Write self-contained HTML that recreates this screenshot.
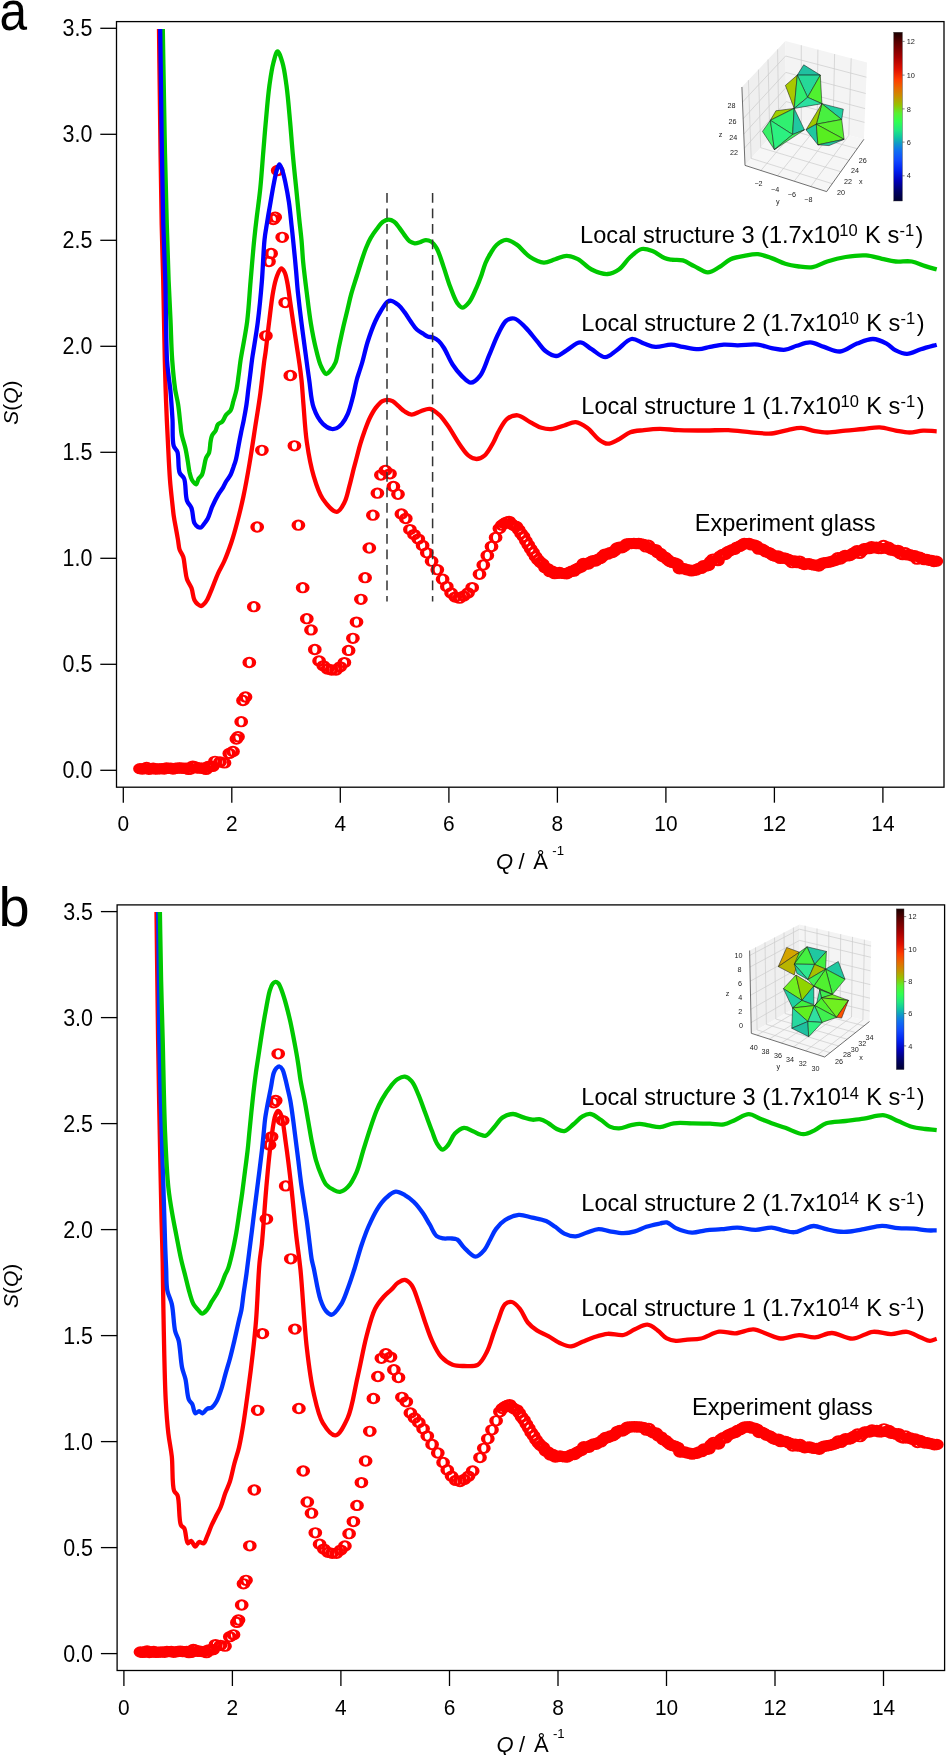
<!DOCTYPE html><html><head><meta charset="utf-8"><style>html,body{margin:0;padding:0;background:#fff;overflow:hidden}svg{display:block;will-change:transform}</style></head><body><svg width="947" height="1755" viewBox="0 0 947 1755">
<style>.t{font-family:"Liberation Sans",sans-serif;font-size:22px;fill:#000}.leg{font-family:"Liberation Sans",sans-serif;font-size:23.6px;fill:#000}.lsup{font-family:"Liberation Sans",sans-serif;font-size:16.5px;fill:#000}.sup{font-family:"Liberation Sans",sans-serif;font-size:14px;fill:#000}.big{font-family:"Liberation Sans",sans-serif;font-size:56px;fill:#000}</style>
<defs><path id="m" d="M-6.9,0A6.9,5.65 0 1 0 6.9,0A6.9,5.65 0 1 0 -6.9,0ZM-2.6,0A2.6,3.7 0 1 0 2.6,0A2.6,3.7 0 1 0 -2.6,0Z"/></defs>
<rect width="947" height="1755" fill="#fff"/>
<rect x="116.5" y="21.6" width="827.5" height="765.6" fill="none" stroke="#000" stroke-width="1.3"/>
<line x1="100.3" y1="770.3" x2="116.5" y2="770.3" stroke="#000" stroke-width="1.3"/>
<text transform="translate(92.4,778.2) scale(0.975,1.065)" text-anchor="end" class="t">0.0</text>
<line x1="100.3" y1="664.3" x2="116.5" y2="664.3" stroke="#000" stroke-width="1.3"/>
<text transform="translate(92.4,672.2) scale(0.975,1.065)" text-anchor="end" class="t">0.5</text>
<line x1="100.3" y1="558.3" x2="116.5" y2="558.3" stroke="#000" stroke-width="1.3"/>
<text transform="translate(92.4,566.2) scale(0.975,1.065)" text-anchor="end" class="t">1.0</text>
<line x1="100.3" y1="452.3" x2="116.5" y2="452.3" stroke="#000" stroke-width="1.3"/>
<text transform="translate(92.4,460.2) scale(0.975,1.065)" text-anchor="end" class="t">1.5</text>
<line x1="100.3" y1="346.3" x2="116.5" y2="346.3" stroke="#000" stroke-width="1.3"/>
<text transform="translate(92.4,354.2) scale(0.975,1.065)" text-anchor="end" class="t">2.0</text>
<line x1="100.3" y1="240.3" x2="116.5" y2="240.3" stroke="#000" stroke-width="1.3"/>
<text transform="translate(92.4,248.2) scale(0.975,1.065)" text-anchor="end" class="t">2.5</text>
<line x1="100.3" y1="134.3" x2="116.5" y2="134.3" stroke="#000" stroke-width="1.3"/>
<text transform="translate(92.4,142.2) scale(0.975,1.065)" text-anchor="end" class="t">3.0</text>
<line x1="100.3" y1="28.3" x2="116.5" y2="28.3" stroke="#000" stroke-width="1.3"/>
<text transform="translate(92.4,36.2) scale(0.975,1.065)" text-anchor="end" class="t">3.5</text>
<line x1="123.3" y1="787.2" x2="123.3" y2="802.7" stroke="#000" stroke-width="1.3"/>
<text transform="translate(123.3,831.3) scale(0.95,1.0)" text-anchor="middle" class="t">0</text>
<line x1="231.8" y1="787.2" x2="231.8" y2="802.7" stroke="#000" stroke-width="1.3"/>
<text transform="translate(231.8,831.3) scale(0.95,1.0)" text-anchor="middle" class="t">2</text>
<line x1="340.3" y1="787.2" x2="340.3" y2="802.7" stroke="#000" stroke-width="1.3"/>
<text transform="translate(340.3,831.3) scale(0.95,1.0)" text-anchor="middle" class="t">4</text>
<line x1="448.9" y1="787.2" x2="448.9" y2="802.7" stroke="#000" stroke-width="1.3"/>
<text transform="translate(448.9,831.3) scale(0.95,1.0)" text-anchor="middle" class="t">6</text>
<line x1="557.4" y1="787.2" x2="557.4" y2="802.7" stroke="#000" stroke-width="1.3"/>
<text transform="translate(557.4,831.3) scale(0.95,1.0)" text-anchor="middle" class="t">8</text>
<line x1="665.9" y1="787.2" x2="665.9" y2="802.7" stroke="#000" stroke-width="1.3"/>
<text transform="translate(665.9,831.3) scale(0.95,1.0)" text-anchor="middle" class="t">10</text>
<line x1="774.4" y1="787.2" x2="774.4" y2="802.7" stroke="#000" stroke-width="1.3"/>
<text transform="translate(774.4,831.3) scale(0.95,1.0)" text-anchor="middle" class="t">12</text>
<line x1="882.9" y1="787.2" x2="882.9" y2="802.7" stroke="#000" stroke-width="1.3"/>
<text transform="translate(882.9,831.3) scale(0.95,1.0)" text-anchor="middle" class="t">14</text>
<text x="0" y="0" class="t" style="font-size:21px" transform="translate(17.5,424.8) rotate(-90)"><tspan font-style="italic">S</tspan>(<tspan font-style="italic">Q</tspan>)</text>
<text x="496" y="868.8" class="t" font-style="italic">Q</text>
<text x="518.5" y="868.8" class="t">/</text>
<text x="533.3" y="868.8" class="t">Å</text>
<text x="552.3" y="855" class="sup" style="font-size:13.2px">-1</text>
<text transform="translate(-0.6,30.4) scale(0.885,1)" class="big">a</text>
<rect x="117.1" y="904.9" width="827.5" height="765.6" fill="none" stroke="#000" stroke-width="1.3"/>
<line x1="100.89999999999999" y1="1653.6" x2="117.1" y2="1653.6" stroke="#000" stroke-width="1.3"/>
<text transform="translate(93.0,1661.5) scale(0.975,1.065)" text-anchor="end" class="t">0.0</text>
<line x1="100.89999999999999" y1="1547.6" x2="117.1" y2="1547.6" stroke="#000" stroke-width="1.3"/>
<text transform="translate(93.0,1555.5) scale(0.975,1.065)" text-anchor="end" class="t">0.5</text>
<line x1="100.89999999999999" y1="1441.6" x2="117.1" y2="1441.6" stroke="#000" stroke-width="1.3"/>
<text transform="translate(93.0,1449.5) scale(0.975,1.065)" text-anchor="end" class="t">1.0</text>
<line x1="100.89999999999999" y1="1335.6" x2="117.1" y2="1335.6" stroke="#000" stroke-width="1.3"/>
<text transform="translate(93.0,1343.5) scale(0.975,1.065)" text-anchor="end" class="t">1.5</text>
<line x1="100.89999999999999" y1="1229.6" x2="117.1" y2="1229.6" stroke="#000" stroke-width="1.3"/>
<text transform="translate(93.0,1237.5) scale(0.975,1.065)" text-anchor="end" class="t">2.0</text>
<line x1="100.89999999999999" y1="1123.6" x2="117.1" y2="1123.6" stroke="#000" stroke-width="1.3"/>
<text transform="translate(93.0,1131.5) scale(0.975,1.065)" text-anchor="end" class="t">2.5</text>
<line x1="100.89999999999999" y1="1017.6" x2="117.1" y2="1017.6" stroke="#000" stroke-width="1.3"/>
<text transform="translate(93.0,1025.5) scale(0.975,1.065)" text-anchor="end" class="t">3.0</text>
<line x1="100.89999999999999" y1="911.6" x2="117.1" y2="911.6" stroke="#000" stroke-width="1.3"/>
<text transform="translate(93.0,919.5) scale(0.975,1.065)" text-anchor="end" class="t">3.5</text>
<line x1="123.9" y1="1670.5" x2="123.9" y2="1686.0" stroke="#000" stroke-width="1.3"/>
<text transform="translate(123.9,1714.6) scale(0.95,1.0)" text-anchor="middle" class="t">0</text>
<line x1="232.4" y1="1670.5" x2="232.4" y2="1686.0" stroke="#000" stroke-width="1.3"/>
<text transform="translate(232.4,1714.6) scale(0.95,1.0)" text-anchor="middle" class="t">2</text>
<line x1="340.9" y1="1670.5" x2="340.9" y2="1686.0" stroke="#000" stroke-width="1.3"/>
<text transform="translate(340.9,1714.6) scale(0.95,1.0)" text-anchor="middle" class="t">4</text>
<line x1="449.5" y1="1670.5" x2="449.5" y2="1686.0" stroke="#000" stroke-width="1.3"/>
<text transform="translate(449.5,1714.6) scale(0.95,1.0)" text-anchor="middle" class="t">6</text>
<line x1="558.0" y1="1670.5" x2="558.0" y2="1686.0" stroke="#000" stroke-width="1.3"/>
<text transform="translate(558.0,1714.6) scale(0.95,1.0)" text-anchor="middle" class="t">8</text>
<line x1="666.5" y1="1670.5" x2="666.5" y2="1686.0" stroke="#000" stroke-width="1.3"/>
<text transform="translate(666.5,1714.6) scale(0.95,1.0)" text-anchor="middle" class="t">10</text>
<line x1="775.0" y1="1670.5" x2="775.0" y2="1686.0" stroke="#000" stroke-width="1.3"/>
<text transform="translate(775.0,1714.6) scale(0.95,1.0)" text-anchor="middle" class="t">12</text>
<line x1="883.5" y1="1670.5" x2="883.5" y2="1686.0" stroke="#000" stroke-width="1.3"/>
<text transform="translate(883.5,1714.6) scale(0.95,1.0)" text-anchor="middle" class="t">14</text>
<text x="0" y="0" class="t" style="font-size:21px" transform="translate(18.1,1308.1) rotate(-90)"><tspan font-style="italic">S</tspan>(<tspan font-style="italic">Q</tspan>)</text>
<text x="496.6" y="1752.1" class="t" font-style="italic">Q</text>
<text x="519.1" y="1752.1" class="t">/</text>
<text x="533.9" y="1752.1" class="t">Å</text>
<text x="552.9" y="1738.3" class="sup" style="font-size:13.2px">-1</text>
<text transform="translate(-1.5,925.7) scale(1.0,1)" class="big">b</text>
<polygon points="741.9,87.0 785.4,41.1 786.2,118.7 745.0,165.4" fill="#efefef"/>
<polygon points="785.4,41.1 867.0,62.5 863.9,139.3 786.2,118.7" fill="#f4f4f4"/>
<polygon points="745.0,165.4 786.2,118.7 863.9,139.3 826.6,191.6" fill="#f6f6f6"/>
<line x1="748.4" y1="80.1" x2="751.2" y2="158.4" stroke="#cccccc" stroke-width="0.7"/>
<line x1="758.4" y1="69.6" x2="760.7" y2="147.7" stroke="#cccccc" stroke-width="0.7"/>
<line x1="768.0" y1="59.5" x2="769.8" y2="137.4" stroke="#cccccc" stroke-width="0.7"/>
<line x1="777.6" y1="49.4" x2="778.8" y2="127.1" stroke="#cccccc" stroke-width="0.7"/>
<line x1="742.5" y1="102.1" x2="785.6" y2="56.0" stroke="#cccccc" stroke-width="0.7"/>
<line x1="743.2" y1="118.7" x2="785.8" y2="72.4" stroke="#cccccc" stroke-width="0.7"/>
<line x1="743.8" y1="134.1" x2="785.9" y2="87.7" stroke="#cccccc" stroke-width="0.7"/>
<line x1="744.4" y1="148.2" x2="786.1" y2="101.6" stroke="#cccccc" stroke-width="0.7"/>
<line x1="801.3" y1="45.2" x2="801.3" y2="122.7" stroke="#cccccc" stroke-width="0.7"/>
<line x1="817.9" y1="49.6" x2="817.1" y2="126.9" stroke="#cccccc" stroke-width="0.7"/>
<line x1="834.6" y1="54.0" x2="833.0" y2="131.1" stroke="#cccccc" stroke-width="0.7"/>
<line x1="851.2" y1="58.3" x2="848.8" y2="135.3" stroke="#cccccc" stroke-width="0.7"/>
<line x1="785.6" y1="56.0" x2="866.4" y2="77.2" stroke="#cccccc" stroke-width="0.7"/>
<line x1="785.8" y1="72.4" x2="865.7" y2="93.5" stroke="#cccccc" stroke-width="0.7"/>
<line x1="785.9" y1="87.7" x2="865.1" y2="108.6" stroke="#cccccc" stroke-width="0.7"/>
<line x1="786.1" y1="101.6" x2="864.5" y2="122.4" stroke="#cccccc" stroke-width="0.7"/>
<line x1="760.9" y1="170.5" x2="801.3" y2="122.7" stroke="#cccccc" stroke-width="0.7"/>
<line x1="777.5" y1="175.8" x2="817.1" y2="126.9" stroke="#cccccc" stroke-width="0.7"/>
<line x1="794.2" y1="181.2" x2="833.0" y2="131.1" stroke="#cccccc" stroke-width="0.7"/>
<line x1="810.8" y1="186.5" x2="848.8" y2="135.3" stroke="#cccccc" stroke-width="0.7"/>
<line x1="751.2" y1="158.4" x2="832.2" y2="183.7" stroke="#cccccc" stroke-width="0.7"/>
<line x1="760.7" y1="147.7" x2="840.8" y2="171.7" stroke="#cccccc" stroke-width="0.7"/>
<line x1="769.8" y1="137.4" x2="849.0" y2="160.2" stroke="#cccccc" stroke-width="0.7"/>
<line x1="778.8" y1="127.1" x2="857.2" y2="148.7" stroke="#cccccc" stroke-width="0.7"/>
<line x1="741.9" y1="87.0" x2="745.0" y2="165.4" stroke="#333" stroke-width="0.7"/>
<line x1="745.0" y1="165.4" x2="826.6" y2="191.6" stroke="#333" stroke-width="0.7"/>
<line x1="826.6" y1="191.6" x2="863.9" y2="139.3" stroke="#333" stroke-width="0.7"/>
<text x="734.0" y="155.1" font-family="Liberation Sans,sans-serif" font-size="7.2" fill="#222" text-anchor="middle">22</text>
<text x="733.2" y="140.1" font-family="Liberation Sans,sans-serif" font-size="7.2" fill="#222" text-anchor="middle">24</text>
<text x="732.4" y="124.2" font-family="Liberation Sans,sans-serif" font-size="7.2" fill="#222" text-anchor="middle">26</text>
<text x="731.6" y="108.4" font-family="Liberation Sans,sans-serif" font-size="7.2" fill="#222" text-anchor="middle">28</text>
<text x="758.5" y="186.0" font-family="Liberation Sans,sans-serif" font-size="7.2" fill="#222" text-anchor="middle">−2</text>
<text x="775.1" y="191.6" font-family="Liberation Sans,sans-serif" font-size="7.2" fill="#222" text-anchor="middle">−4</text>
<text x="791.8" y="197.1" font-family="Liberation Sans,sans-serif" font-size="7.2" fill="#222" text-anchor="middle">−6</text>
<text x="808.4" y="201.9" font-family="Liberation Sans,sans-serif" font-size="7.2" fill="#222" text-anchor="middle">−8</text>
<text x="840.9" y="194.7" font-family="Liberation Sans,sans-serif" font-size="7.2" fill="#222" text-anchor="middle">20</text>
<text x="848.0" y="183.7" font-family="Liberation Sans,sans-serif" font-size="7.2" fill="#222" text-anchor="middle">22</text>
<text x="855.1" y="173.4" font-family="Liberation Sans,sans-serif" font-size="7.2" fill="#222" text-anchor="middle">24</text>
<text x="862.7" y="162.7" font-family="Liberation Sans,sans-serif" font-size="7.2" fill="#222" text-anchor="middle">26</text>
<text x="860.7" y="184.4" font-family="Liberation Sans,sans-serif" font-size="7.2" fill="#222" text-anchor="middle">x</text>
<text x="777.8" y="203.5" font-family="Liberation Sans,sans-serif" font-size="7.2" fill="#222" text-anchor="middle">y</text>
<text x="720.5" y="136.5" font-family="Liberation Sans,sans-serif" font-size="7.2" fill="#222" text-anchor="middle">z</text>
<polygon points="803.7,64.8 797.3,75.1 820.3,75.1" fill="#20c0a0" stroke="#1a1a1a" stroke-width="0.55" stroke-linejoin="round"/>
<polygon points="797.3,75.1 820.3,75.1 807.6,97.3" fill="#26d898" stroke="#1a1a1a" stroke-width="0.55" stroke-linejoin="round"/>
<polygon points="797.3,75.1 785.4,85.4 794.2,108.4" fill="#a8c800" stroke="#1a1a1a" stroke-width="0.55" stroke-linejoin="round"/>
<polygon points="797.3,75.1 807.6,97.3 794.2,108.4" fill="#30ee70" stroke="#1a1a1a" stroke-width="0.55" stroke-linejoin="round"/>
<polygon points="820.3,75.1 821.9,103.7 807.6,97.3" fill="#50f030" stroke="#1a1a1a" stroke-width="0.55" stroke-linejoin="round"/>
<polygon points="807.6,97.3 821.9,103.7 794.2,108.4" fill="#2ce0a0" stroke="#1a1a1a" stroke-width="0.55" stroke-linejoin="round"/>
<polygon points="794.2,108.4 775.9,110.8 770.4,120.3" fill="#a0d000" stroke="#1a1a1a" stroke-width="0.55" stroke-linejoin="round"/>
<polygon points="794.2,108.4 770.4,120.3 792.6,134.5" fill="#30f070" stroke="#1a1a1a" stroke-width="0.55" stroke-linejoin="round"/>
<polygon points="770.4,120.3 762.5,131.4 774.4,149.6" fill="#38f068" stroke="#1a1a1a" stroke-width="0.55" stroke-linejoin="round"/>
<polygon points="770.4,120.3 774.4,149.6 792.6,134.5" fill="#2cf080" stroke="#1a1a1a" stroke-width="0.55" stroke-linejoin="round"/>
<polygon points="794.2,108.4 792.6,134.5 804.4,129.8" fill="#20c8a0" stroke="#1a1a1a" stroke-width="0.55" stroke-linejoin="round"/>
<polygon points="774.4,149.6 792.6,134.5 804.4,129.8" fill="#40f060" stroke="#1a1a1a" stroke-width="0.55" stroke-linejoin="round"/>
<polygon points="821.9,103.7 843.3,109.2 841.7,119.5" fill="#22d0a0" stroke="#1a1a1a" stroke-width="0.55" stroke-linejoin="round"/>
<polygon points="821.9,103.7 841.7,119.5 816.3,124.2" fill="#48f040" stroke="#1a1a1a" stroke-width="0.55" stroke-linejoin="round"/>
<polygon points="821.9,103.7 806.0,129.8 816.3,124.2" fill="#a0c800" stroke="#1a1a1a" stroke-width="0.55" stroke-linejoin="round"/>
<polygon points="806.0,129.8 816.3,124.2 817.9,144.8" fill="#20c8a0" stroke="#1a1a1a" stroke-width="0.55" stroke-linejoin="round"/>
<polygon points="816.3,124.2 841.7,119.5 844.1,139.3" fill="#58f030" stroke="#1a1a1a" stroke-width="0.55" stroke-linejoin="round"/>
<polygon points="816.3,124.2 844.1,139.3 817.9,144.8" fill="#58ee20" stroke="#1a1a1a" stroke-width="0.55" stroke-linejoin="round"/>
<polygon points="817.9,144.8 844.1,139.3 829.0,145.6" fill="#20c8a0" stroke="#1a1a1a" stroke-width="0.55" stroke-linejoin="round"/>
<linearGradient id="cba" x1="0" y1="0" x2="0" y2="1"><stop offset="0" stop-color="#1a0000"/><stop offset="0.06" stop-color="#5a0000"/><stop offset="0.15" stop-color="#a80000"/><stop offset="0.22" stop-color="#e01000"/><stop offset="0.28" stop-color="#ff3c00"/><stop offset="0.33" stop-color="#e86800"/><stop offset="0.38" stop-color="#c89000"/><stop offset="0.43" stop-color="#98c000"/><stop offset="0.48" stop-color="#58f030"/><stop offset="0.53" stop-color="#30ff50"/><stop offset="0.58" stop-color="#20e880"/><stop offset="0.62" stop-color="#10c8a0"/><stop offset="0.66" stop-color="#1098c8"/><stop offset="0.7" stop-color="#1070f0"/><stop offset="0.76" stop-color="#1048ff"/><stop offset="0.82" stop-color="#0020f0"/><stop offset="0.88" stop-color="#0000b8"/><stop offset="0.94" stop-color="#000068"/><stop offset="1" stop-color="#000030"/></linearGradient>
<rect x="893.7" y="32.2" width="8.699999999999932" height="168.8" fill="url(#cba)" stroke="#444" stroke-width="0.4"/>
<line x1="902.4" y1="41.4" x2="904.6" y2="41.4" stroke="#333" stroke-width="0.6"/>
<text x="906.7" y="44.0" font-family="Liberation Sans,sans-serif" font-size="7.4" fill="#222" text-anchor="start">12</text>
<line x1="902.4" y1="75.1" x2="904.6" y2="75.1" stroke="#333" stroke-width="0.6"/>
<text x="906.7" y="77.7" font-family="Liberation Sans,sans-serif" font-size="7.4" fill="#222" text-anchor="start">10</text>
<line x1="902.4" y1="108.9" x2="904.6" y2="108.9" stroke="#333" stroke-width="0.6"/>
<text x="906.7" y="111.5" font-family="Liberation Sans,sans-serif" font-size="7.4" fill="#222" text-anchor="start">8</text>
<line x1="902.4" y1="142.1" x2="904.6" y2="142.1" stroke="#333" stroke-width="0.6"/>
<text x="906.7" y="144.7" font-family="Liberation Sans,sans-serif" font-size="7.4" fill="#222" text-anchor="start">6</text>
<line x1="902.4" y1="175.8" x2="904.6" y2="175.8" stroke="#333" stroke-width="0.6"/>
<text x="906.7" y="178.4" font-family="Liberation Sans,sans-serif" font-size="7.4" fill="#222" text-anchor="start">4</text>
<polygon points="749.6,950.5 799.4,924.4 800.3,1004.6 751.3,1033.3" fill="#efefef"/>
<polygon points="799.4,924.4 871.2,941.3 869.5,1021.5 800.3,1004.6" fill="#f4f4f4"/>
<polygon points="751.3,1033.3 800.3,1004.6 869.5,1021.5 824.7,1057.0" fill="#f6f6f6"/>
<line x1="755.5" y1="947.4" x2="757.1" y2="1029.9" stroke="#cccccc" stroke-width="0.7"/>
<line x1="765.0" y1="942.4" x2="766.4" y2="1024.4" stroke="#cccccc" stroke-width="0.7"/>
<line x1="774.5" y1="937.5" x2="775.8" y2="1019.0" stroke="#cccccc" stroke-width="0.7"/>
<line x1="784.0" y1="932.5" x2="785.1" y2="1013.5" stroke="#cccccc" stroke-width="0.7"/>
<line x1="793.4" y1="927.5" x2="794.4" y2="1008.1" stroke="#cccccc" stroke-width="0.7"/>
<line x1="749.7" y1="955.5" x2="799.5" y2="929.2" stroke="#cccccc" stroke-width="0.7"/>
<line x1="749.9" y1="967.1" x2="799.6" y2="940.4" stroke="#cccccc" stroke-width="0.7"/>
<line x1="750.2" y1="981.2" x2="799.7" y2="954.1" stroke="#cccccc" stroke-width="0.7"/>
<line x1="750.5" y1="995.3" x2="799.9" y2="967.7" stroke="#cccccc" stroke-width="0.7"/>
<line x1="750.8" y1="1009.3" x2="800.0" y2="981.3" stroke="#cccccc" stroke-width="0.7"/>
<line x1="751.0" y1="1022.6" x2="800.1" y2="994.2" stroke="#cccccc" stroke-width="0.7"/>
<line x1="805.1" y1="925.7" x2="805.8" y2="1006.0" stroke="#cccccc" stroke-width="0.7"/>
<line x1="817.0" y1="928.5" x2="817.2" y2="1008.7" stroke="#cccccc" stroke-width="0.7"/>
<line x1="828.8" y1="931.3" x2="828.7" y2="1011.5" stroke="#cccccc" stroke-width="0.7"/>
<line x1="840.7" y1="934.1" x2="840.1" y2="1014.3" stroke="#cccccc" stroke-width="0.7"/>
<line x1="852.5" y1="936.9" x2="851.5" y2="1017.1" stroke="#cccccc" stroke-width="0.7"/>
<line x1="864.4" y1="939.7" x2="862.9" y2="1019.9" stroke="#cccccc" stroke-width="0.7"/>
<line x1="799.5" y1="929.2" x2="871.1" y2="946.1" stroke="#cccccc" stroke-width="0.7"/>
<line x1="799.6" y1="940.4" x2="870.9" y2="957.3" stroke="#cccccc" stroke-width="0.7"/>
<line x1="799.7" y1="954.1" x2="870.6" y2="970.9" stroke="#cccccc" stroke-width="0.7"/>
<line x1="799.9" y1="967.7" x2="870.3" y2="984.6" stroke="#cccccc" stroke-width="0.7"/>
<line x1="800.0" y1="981.3" x2="870.0" y2="998.2" stroke="#cccccc" stroke-width="0.7"/>
<line x1="800.1" y1="994.2" x2="869.7" y2="1011.1" stroke="#cccccc" stroke-width="0.7"/>
<line x1="757.1" y1="1035.2" x2="805.8" y2="1006.0" stroke="#cccccc" stroke-width="0.7"/>
<line x1="769.3" y1="1039.1" x2="817.2" y2="1008.7" stroke="#cccccc" stroke-width="0.7"/>
<line x1="781.4" y1="1043.0" x2="828.7" y2="1011.5" stroke="#cccccc" stroke-width="0.7"/>
<line x1="793.5" y1="1046.9" x2="840.1" y2="1014.3" stroke="#cccccc" stroke-width="0.7"/>
<line x1="805.6" y1="1050.8" x2="851.5" y2="1017.1" stroke="#cccccc" stroke-width="0.7"/>
<line x1="817.8" y1="1054.7" x2="862.9" y2="1019.9" stroke="#cccccc" stroke-width="0.7"/>
<line x1="757.1" y1="1029.9" x2="830.1" y2="1052.7" stroke="#cccccc" stroke-width="0.7"/>
<line x1="766.4" y1="1024.4" x2="838.6" y2="1046.0" stroke="#cccccc" stroke-width="0.7"/>
<line x1="775.8" y1="1019.0" x2="847.1" y2="1039.2" stroke="#cccccc" stroke-width="0.7"/>
<line x1="785.1" y1="1013.5" x2="855.6" y2="1032.5" stroke="#cccccc" stroke-width="0.7"/>
<line x1="794.4" y1="1008.1" x2="864.1" y2="1025.8" stroke="#cccccc" stroke-width="0.7"/>
<line x1="749.6" y1="950.5" x2="751.3" y2="1033.3" stroke="#333" stroke-width="0.7"/>
<line x1="751.3" y1="1033.3" x2="824.7" y2="1057.0" stroke="#333" stroke-width="0.7"/>
<line x1="824.7" y1="1057.0" x2="869.5" y2="1021.5" stroke="#333" stroke-width="0.7"/>
<text x="741.1" y="1028.3" font-family="Liberation Sans,sans-serif" font-size="7.2" fill="#222" text-anchor="middle">0</text>
<text x="740.3" y="1014.2" font-family="Liberation Sans,sans-serif" font-size="7.2" fill="#222" text-anchor="middle">2</text>
<text x="740.3" y="1000.4" font-family="Liberation Sans,sans-serif" font-size="7.2" fill="#222" text-anchor="middle">4</text>
<text x="739.9" y="986.4" font-family="Liberation Sans,sans-serif" font-size="7.2" fill="#222" text-anchor="middle">6</text>
<text x="739.4" y="972.2" font-family="Liberation Sans,sans-serif" font-size="7.2" fill="#222" text-anchor="middle">8</text>
<text x="738.6" y="957.6" font-family="Liberation Sans,sans-serif" font-size="7.2" fill="#222" text-anchor="middle">10</text>
<text x="753.8" y="1049.9" font-family="Liberation Sans,sans-serif" font-size="7.2" fill="#222" text-anchor="middle">40</text>
<text x="765.6" y="1053.9" font-family="Liberation Sans,sans-serif" font-size="7.2" fill="#222" text-anchor="middle">38</text>
<text x="777.9" y="1057.8" font-family="Liberation Sans,sans-serif" font-size="7.2" fill="#222" text-anchor="middle">36</text>
<text x="790.1" y="1061.7" font-family="Liberation Sans,sans-serif" font-size="7.2" fill="#222" text-anchor="middle">34</text>
<text x="802.8" y="1065.8" font-family="Liberation Sans,sans-serif" font-size="7.2" fill="#222" text-anchor="middle">32</text>
<text x="815.5" y="1070.5" font-family="Liberation Sans,sans-serif" font-size="7.2" fill="#222" text-anchor="middle">30</text>
<text x="839.1" y="1064.1" font-family="Liberation Sans,sans-serif" font-size="7.2" fill="#222" text-anchor="middle">26</text>
<text x="847.0" y="1057.3" font-family="Liberation Sans,sans-serif" font-size="7.2" fill="#222" text-anchor="middle">28</text>
<text x="854.8" y="1051.6" font-family="Liberation Sans,sans-serif" font-size="7.2" fill="#222" text-anchor="middle">30</text>
<text x="862.3" y="1045.5" font-family="Liberation Sans,sans-serif" font-size="7.2" fill="#222" text-anchor="middle">32</text>
<text x="869.5" y="1039.8" font-family="Liberation Sans,sans-serif" font-size="7.2" fill="#222" text-anchor="middle">34</text>
<text x="861.1" y="1059.5" font-family="Liberation Sans,sans-serif" font-size="7.2" fill="#222" text-anchor="middle">x</text>
<text x="778.3" y="1068.8" font-family="Liberation Sans,sans-serif" font-size="7.2" fill="#222" text-anchor="middle">y</text>
<text x="727.6" y="996.2" font-family="Liberation Sans,sans-serif" font-size="7.2" fill="#222" text-anchor="middle">z</text>
<polygon points="786.7,947.5 799.4,952.2 778.3,966.6" fill="#d4a400" stroke="#1a1a1a" stroke-width="0.55" stroke-linejoin="round"/>
<polygon points="778.3,966.6 799.4,952.2 794.3,975.0" fill="#b8b400" stroke="#1a1a1a" stroke-width="0.55" stroke-linejoin="round"/>
<polygon points="807.0,946.8 826.4,951.4 814.6,964.4" fill="#20c8a0" stroke="#1a1a1a" stroke-width="0.55" stroke-linejoin="round"/>
<polygon points="807.0,946.8 799.4,952.2 794.3,964.1" fill="#40f040" stroke="#1a1a1a" stroke-width="0.55" stroke-linejoin="round"/>
<polygon points="807.0,946.8 814.6,964.4 794.3,964.1" fill="#44f040" stroke="#1a1a1a" stroke-width="0.55" stroke-linejoin="round"/>
<polygon points="826.4,951.4 825.6,969.1 814.6,964.4" fill="#40f040" stroke="#1a1a1a" stroke-width="0.55" stroke-linejoin="round"/>
<polygon points="794.3,964.1 814.6,964.4 807.9,979.6" fill="#30e890" stroke="#1a1a1a" stroke-width="0.55" stroke-linejoin="round"/>
<polygon points="794.3,964.1 807.9,979.6 796.9,973.4" fill="#20d0a0" stroke="#1a1a1a" stroke-width="0.55" stroke-linejoin="round"/>
<polygon points="814.6,964.4 825.6,969.1 807.9,979.6" fill="#a8c000" stroke="#1a1a1a" stroke-width="0.55" stroke-linejoin="round"/>
<polygon points="825.6,969.1 838.3,961.5 845.0,979.3" fill="#20c8a0" stroke="#1a1a1a" stroke-width="0.55" stroke-linejoin="round"/>
<polygon points="825.6,969.1 845.0,979.3 832.4,994.5" fill="#40f040" stroke="#1a1a1a" stroke-width="0.55" stroke-linejoin="round"/>
<polygon points="825.6,969.1 832.4,994.5 813.8,986.0" fill="#50f030" stroke="#1a1a1a" stroke-width="0.55" stroke-linejoin="round"/>
<polygon points="813.8,986.0 825.6,969.1 807.9,979.6" fill="#40f050" stroke="#1a1a1a" stroke-width="0.55" stroke-linejoin="round"/>
<polygon points="796.0,975.0 783.4,988.6 801.9,1000.4" fill="#70f020" stroke="#1a1a1a" stroke-width="0.55" stroke-linejoin="round"/>
<polygon points="796.0,975.0 801.9,1000.4 813.8,986.0" fill="#90d400" stroke="#1a1a1a" stroke-width="0.55" stroke-linejoin="round"/>
<polygon points="783.4,988.6 801.9,1000.4 792.6,1008.0" fill="#20d0a0" stroke="#1a1a1a" stroke-width="0.55" stroke-linejoin="round"/>
<polygon points="801.9,1000.4 813.8,986.0 813.8,1004.6" fill="#20d0a0" stroke="#1a1a1a" stroke-width="0.55" stroke-linejoin="round"/>
<polygon points="792.6,1008.0 801.9,1000.4 814.6,1005.5" fill="#40f040" stroke="#1a1a1a" stroke-width="0.55" stroke-linejoin="round"/>
<polygon points="792.6,1008.0 814.6,1005.5 807.9,1021.5" fill="#60f020" stroke="#1a1a1a" stroke-width="0.55" stroke-linejoin="round"/>
<polygon points="792.6,1008.0 807.9,1021.5 791.8,1028.3" fill="#28d8a0" stroke="#1a1a1a" stroke-width="0.55" stroke-linejoin="round"/>
<polygon points="791.8,1028.3 807.9,1021.5 808.7,1036.7" fill="#20c0a0" stroke="#1a1a1a" stroke-width="0.55" stroke-linejoin="round"/>
<polygon points="807.9,1021.5 814.6,1005.5 822.2,1022.4" fill="#30e0a0" stroke="#1a1a1a" stroke-width="0.55" stroke-linejoin="round"/>
<polygon points="807.9,1021.5 822.2,1022.4 808.7,1036.7" fill="#30f080" stroke="#1a1a1a" stroke-width="0.55" stroke-linejoin="round"/>
<polygon points="814.6,1005.5 821.4,997.9 836.6,1017.3" fill="#50f030" stroke="#1a1a1a" stroke-width="0.55" stroke-linejoin="round"/>
<polygon points="814.6,1005.5 836.6,1017.3 822.2,1022.4" fill="#40f050" stroke="#1a1a1a" stroke-width="0.55" stroke-linejoin="round"/>
<polygon points="813.8,986.0 832.4,994.5 819.7,989.7" fill="#48f040" stroke="#1a1a1a" stroke-width="0.55" stroke-linejoin="round"/>
<polygon points="819.7,989.7 832.4,994.5 821.4,997.9" fill="#40f050" stroke="#1a1a1a" stroke-width="0.55" stroke-linejoin="round"/>
<polygon points="821.4,997.9 819.7,989.7 816.6,1003.8 814.6,1005.5" fill="#30e890" stroke="#1a1a1a" stroke-width="0.55" stroke-linejoin="round"/>
<polygon points="821.4,997.9 832.4,994.5 848.4,1000.4" fill="#70f020" stroke="#1a1a1a" stroke-width="0.55" stroke-linejoin="round"/>
<polygon points="821.4,997.9 848.4,1000.4 836.6,1017.3" fill="#70f020" stroke="#1a1a1a" stroke-width="0.55" stroke-linejoin="round"/>
<polygon points="836.6,1017.3 848.4,1000.4 841.6,1018.1" fill="#ff5000" stroke="#1a1a1a" stroke-width="0.55" stroke-linejoin="round"/>
<linearGradient id="cbb" x1="0" y1="0" x2="0" y2="1"><stop offset="0" stop-color="#1a0000"/><stop offset="0.06" stop-color="#5a0000"/><stop offset="0.15" stop-color="#a80000"/><stop offset="0.22" stop-color="#e01000"/><stop offset="0.28" stop-color="#ff3c00"/><stop offset="0.33" stop-color="#e86800"/><stop offset="0.38" stop-color="#c89000"/><stop offset="0.43" stop-color="#98c000"/><stop offset="0.48" stop-color="#58f030"/><stop offset="0.53" stop-color="#30ff50"/><stop offset="0.58" stop-color="#20e880"/><stop offset="0.62" stop-color="#10c8a0"/><stop offset="0.66" stop-color="#1098c8"/><stop offset="0.7" stop-color="#1070f0"/><stop offset="0.76" stop-color="#1048ff"/><stop offset="0.82" stop-color="#0020f0"/><stop offset="0.88" stop-color="#0000b8"/><stop offset="0.94" stop-color="#000068"/><stop offset="1" stop-color="#000030"/></linearGradient>
<rect x="896.3" y="908.9" width="7.7000000000000455" height="160.69999999999993" fill="url(#cbb)" stroke="#444" stroke-width="0.4"/>
<line x1="904.0" y1="916.6" x2="906.2" y2="916.6" stroke="#333" stroke-width="0.6"/>
<text x="908.3" y="919.2" font-family="Liberation Sans,sans-serif" font-size="7.4" fill="#222" text-anchor="start">12</text>
<line x1="904.0" y1="949.2" x2="906.2" y2="949.2" stroke="#333" stroke-width="0.6"/>
<text x="908.3" y="951.8" font-family="Liberation Sans,sans-serif" font-size="7.4" fill="#222" text-anchor="start">10</text>
<line x1="904.0" y1="981.6" x2="906.2" y2="981.6" stroke="#333" stroke-width="0.6"/>
<text x="908.3" y="984.2" font-family="Liberation Sans,sans-serif" font-size="7.4" fill="#222" text-anchor="start">8</text>
<line x1="904.0" y1="1013.5" x2="906.2" y2="1013.5" stroke="#333" stroke-width="0.6"/>
<text x="908.3" y="1016.1" font-family="Liberation Sans,sans-serif" font-size="7.4" fill="#222" text-anchor="start">6</text>
<line x1="904.0" y1="1045.9" x2="906.2" y2="1045.9" stroke="#333" stroke-width="0.6"/>
<text x="908.3" y="1048.5" font-family="Liberation Sans,sans-serif" font-size="7.4" fill="#222" text-anchor="start">4</text>
<g fill="#f00" fill-rule="evenodd"><use href="#m" x="140.0" y="768.7"/><use href="#m" x="142.2" y="769.1"/><use href="#m" x="144.4" y="768.7"/><use href="#m" x="146.6" y="767.5"/><use href="#m" x="148.8" y="769.3"/><use href="#m" x="151.0" y="768.9"/><use href="#m" x="153.2" y="768.1"/><use href="#m" x="155.4" y="769.1"/><use href="#m" x="157.6" y="768.9"/><use href="#m" x="159.8" y="768.8"/><use href="#m" x="162.0" y="768.6"/><use href="#m" x="164.2" y="769.0"/><use href="#m" x="166.4" y="768.0"/><use href="#m" x="168.6" y="768.4"/><use href="#m" x="170.8" y="768.1"/><use href="#m" x="173.0" y="769.0"/><use href="#m" x="175.2" y="768.5"/><use href="#m" x="177.4" y="768.2"/><use href="#m" x="179.6" y="767.8"/><use href="#m" x="181.8" y="768.2"/><use href="#m" x="184.0" y="768.4"/><use href="#m" x="186.2" y="768.1"/><use href="#m" x="188.4" y="769.4"/><use href="#m" x="190.6" y="769.1"/><use href="#m" x="192.8" y="766.1"/><use href="#m" x="195.0" y="766.8"/><use href="#m" x="197.2" y="768.1"/><use href="#m" x="199.4" y="767.9"/><use href="#m" x="201.6" y="768.3"/><use href="#m" x="203.8" y="768.2"/><use href="#m" x="206.0" y="769.4"/><use href="#m" x="208.2" y="766.5"/><use href="#m" x="210.4" y="766.6"/><use href="#m" x="212.6" y="766.4"/><use href="#m" x="215.0" y="761.3"/><use href="#m" x="220.0" y="762.0"/><use href="#m" x="224.5" y="762.9"/><use href="#m" x="229.3" y="753.4"/><use href="#m" x="233.0" y="751.5"/><use href="#m" x="236.4" y="739.1"/><use href="#m" x="238.0" y="736.7"/><use href="#m" x="241.2" y="721.7"/><use href="#m" x="243.0" y="700.5"/><use href="#m" x="245.5" y="697.0"/><use href="#m" x="249.3" y="662.5"/><use href="#m" x="253.8" y="606.7"/><use href="#m" x="257.2" y="527.0"/><use href="#m" x="261.9" y="450.3"/><use href="#m" x="265.9" y="335.8"/><use href="#m" x="269.0" y="261.6"/><use href="#m" x="271.1" y="253.5"/><use href="#m" x="273.3" y="219.5"/><use href="#m" x="275.2" y="217.2"/><use href="#m" x="277.7" y="170.5"/><use href="#m" x="282.2" y="237.3"/><use href="#m" x="285.2" y="302.6"/><use href="#m" x="290.3" y="375.5"/><use href="#m" x="294.4" y="445.8"/><use href="#m" x="298.4" y="525.2"/><use href="#m" x="302.7" y="587.7"/><use href="#m" x="306.8" y="618.7"/><use href="#m" x="311.0" y="629.9"/><use href="#m" x="314.8" y="649.5"/><use href="#m" x="319.1" y="660.9"/><use href="#m" x="323.3" y="665.8"/><use href="#m" x="327.5" y="669.0"/><use href="#m" x="331.7" y="670.0"/><use href="#m" x="336.0" y="670.0"/><use href="#m" x="340.2" y="666.8"/><use href="#m" x="344.4" y="662.6"/><use href="#m" x="348.6" y="650.4"/><use href="#m" x="352.9" y="638.3"/><use href="#m" x="356.5" y="622.1"/><use href="#m" x="360.9" y="599.3"/><use href="#m" x="365.1" y="577.7"/><use href="#m" x="369.3" y="548.0"/><use href="#m" x="372.9" y="515.2"/><use href="#m" x="377.4" y="493.2"/><use href="#m" x="380.9" y="475.0"/><use href="#m" x="385.4" y="470.4"/><use href="#m" x="390.0" y="473.8"/><use href="#m" x="393.4" y="486.4"/><use href="#m" x="398.0" y="494.3"/><use href="#m" x="401.4" y="514.0"/><use href="#m" x="405.8" y="518.5"/><use href="#m" x="409.9" y="529.6"/><use href="#m" x="414.0" y="534.6"/><use href="#m" x="418.3" y="539.1"/><use href="#m" x="422.6" y="545.4"/><use href="#m" x="426.8" y="552.8"/><use href="#m" x="431.6" y="561.2"/><use href="#m" x="437.3" y="569.7"/><use href="#m" x="442.6" y="579.2"/><use href="#m" x="446.8" y="586.6"/><use href="#m" x="451.1" y="592.9"/><use href="#m" x="455.3" y="597.1"/><use href="#m" x="459.5" y="598.2"/><use href="#m" x="463.7" y="596.1"/><use href="#m" x="468.0" y="592.9"/><use href="#m" x="472.2" y="587.6"/><use href="#m" x="479.5" y="574.3"/><use href="#m" x="483.3" y="565.0"/><use href="#m" x="487.3" y="555.5"/><use href="#m" x="491.5" y="546.5"/><use href="#m" x="495.6" y="537.5"/><use href="#m" x="499.4" y="528.5"/><use href="#m" x="501.9" y="525.2"/><use href="#m" x="504.3" y="523.4"/><use href="#m" x="506.7" y="522.1"/><use href="#m" x="509.1" y="521.3"/><use href="#m" x="511.5" y="524.0"/><use href="#m" x="513.9" y="525.6"/><use href="#m" x="516.3" y="526.5"/><use href="#m" x="518.7" y="529.7"/><use href="#m" x="521.1" y="533.6"/><use href="#m" x="523.5" y="536.6"/><use href="#m" x="525.9" y="540.9"/><use href="#m" x="528.3" y="544.9"/><use href="#m" x="530.7" y="549.1"/><use href="#m" x="533.1" y="552.4"/><use href="#m" x="535.5" y="556.4"/><use href="#m" x="537.9" y="559.7"/><use href="#m" x="540.3" y="562.2"/><use href="#m" x="542.7" y="563.9"/><use href="#m" x="545.1" y="567.7"/><use href="#m" x="547.5" y="568.6"/><use href="#m" x="549.9" y="571.7"/><use href="#m" x="552.3" y="571.2"/><use href="#m" x="554.7" y="573.7"/><use href="#m" x="557.1" y="573.4"/><use href="#m" x="559.5" y="572.5"/><use href="#m" x="561.9" y="573.3"/><use href="#m" x="564.3" y="573.6"/><use href="#m" x="566.7" y="573.8"/><use href="#m" x="569.1" y="572.3"/><use href="#m" x="571.5" y="571.2"/><use href="#m" x="573.9" y="571.2"/><use href="#m" x="576.3" y="569.1"/><use href="#m" x="578.7" y="567.9"/><use href="#m" x="581.1" y="566.9"/><use href="#m" x="583.5" y="563.4"/><use href="#m" x="585.9" y="564.0"/><use href="#m" x="588.3" y="564.0"/><use href="#m" x="590.7" y="561.8"/><use href="#m" x="593.1" y="560.6"/><use href="#m" x="595.5" y="561.0"/><use href="#m" x="597.9" y="559.3"/><use href="#m" x="600.3" y="558.6"/><use href="#m" x="602.7" y="556.3"/><use href="#m" x="605.1" y="554.1"/><use href="#m" x="607.5" y="554.2"/><use href="#m" x="609.9" y="552.7"/><use href="#m" x="612.3" y="552.5"/><use href="#m" x="614.7" y="550.8"/><use href="#m" x="617.1" y="548.0"/><use href="#m" x="619.5" y="547.2"/><use href="#m" x="621.9" y="547.8"/><use href="#m" x="624.3" y="546.3"/><use href="#m" x="626.7" y="543.9"/><use href="#m" x="629.1" y="543.7"/><use href="#m" x="631.5" y="543.6"/><use href="#m" x="633.9" y="543.3"/><use href="#m" x="636.3" y="543.7"/><use href="#m" x="638.7" y="543.5"/><use href="#m" x="641.1" y="543.8"/><use href="#m" x="643.5" y="544.4"/><use href="#m" x="645.9" y="546.9"/><use href="#m" x="648.3" y="545.2"/><use href="#m" x="650.7" y="548.3"/><use href="#m" x="653.1" y="549.6"/><use href="#m" x="655.5" y="549.6"/><use href="#m" x="657.9" y="552.7"/><use href="#m" x="660.3" y="553.5"/><use href="#m" x="662.7" y="556.5"/><use href="#m" x="665.1" y="557.2"/><use href="#m" x="667.5" y="559.5"/><use href="#m" x="669.9" y="561.5"/><use href="#m" x="672.3" y="562.4"/><use href="#m" x="674.7" y="562.9"/><use href="#m" x="677.1" y="564.0"/><use href="#m" x="679.5" y="568.8"/><use href="#m" x="681.9" y="568.6"/><use href="#m" x="684.3" y="568.7"/><use href="#m" x="686.7" y="569.8"/><use href="#m" x="689.1" y="569.8"/><use href="#m" x="691.5" y="570.9"/><use href="#m" x="693.9" y="570.2"/><use href="#m" x="696.3" y="570.0"/><use href="#m" x="698.7" y="568.5"/><use href="#m" x="701.1" y="568.4"/><use href="#m" x="703.5" y="565.7"/><use href="#m" x="705.9" y="566.1"/><use href="#m" x="708.3" y="565.6"/><use href="#m" x="710.7" y="561.4"/><use href="#m" x="713.1" y="559.1"/><use href="#m" x="715.5" y="560.4"/><use href="#m" x="717.9" y="560.7"/><use href="#m" x="720.3" y="556.1"/><use href="#m" x="722.7" y="554.4"/><use href="#m" x="725.1" y="554.6"/><use href="#m" x="727.5" y="551.9"/><use href="#m" x="729.9" y="550.8"/><use href="#m" x="732.3" y="549.7"/><use href="#m" x="734.7" y="549.3"/><use href="#m" x="737.1" y="547.1"/><use href="#m" x="739.5" y="546.4"/><use href="#m" x="741.9" y="544.9"/><use href="#m" x="744.3" y="543.5"/><use href="#m" x="746.7" y="543.7"/><use href="#m" x="749.1" y="543.4"/><use href="#m" x="751.5" y="544.9"/><use href="#m" x="753.9" y="544.8"/><use href="#m" x="756.3" y="545.8"/><use href="#m" x="758.7" y="549.2"/><use href="#m" x="761.1" y="548.8"/><use href="#m" x="763.5" y="550.0"/><use href="#m" x="765.9" y="551.8"/><use href="#m" x="768.3" y="552.3"/><use href="#m" x="770.7" y="553.7"/><use href="#m" x="773.1" y="555.5"/><use href="#m" x="775.5" y="556.3"/><use href="#m" x="777.9" y="555.8"/><use href="#m" x="780.3" y="558.4"/><use href="#m" x="782.7" y="557.9"/><use href="#m" x="785.1" y="558.2"/><use href="#m" x="787.5" y="559.1"/><use href="#m" x="789.9" y="560.2"/><use href="#m" x="792.3" y="562.7"/><use href="#m" x="794.7" y="560.9"/><use href="#m" x="797.1" y="562.7"/><use href="#m" x="799.5" y="561.1"/><use href="#m" x="801.9" y="563.4"/><use href="#m" x="804.3" y="564.5"/><use href="#m" x="806.7" y="563.8"/><use href="#m" x="809.1" y="563.7"/><use href="#m" x="811.5" y="564.6"/><use href="#m" x="813.9" y="565.1"/><use href="#m" x="816.3" y="565.1"/><use href="#m" x="818.7" y="566.0"/><use href="#m" x="821.1" y="564.0"/><use href="#m" x="823.5" y="562.8"/><use href="#m" x="825.9" y="562.7"/><use href="#m" x="828.3" y="562.2"/><use href="#m" x="830.7" y="561.8"/><use href="#m" x="833.1" y="560.9"/><use href="#m" x="835.5" y="560.3"/><use href="#m" x="837.9" y="557.7"/><use href="#m" x="840.3" y="559.1"/><use href="#m" x="842.7" y="556.9"/><use href="#m" x="845.1" y="555.4"/><use href="#m" x="847.5" y="555.9"/><use href="#m" x="849.9" y="555.5"/><use href="#m" x="852.3" y="553.7"/><use href="#m" x="854.7" y="552.5"/><use href="#m" x="857.1" y="550.7"/><use href="#m" x="859.5" y="553.4"/><use href="#m" x="861.9" y="551.0"/><use href="#m" x="864.3" y="548.7"/><use href="#m" x="866.7" y="548.5"/><use href="#m" x="869.1" y="548.7"/><use href="#m" x="871.5" y="546.7"/><use href="#m" x="873.9" y="547.9"/><use href="#m" x="876.3" y="547.1"/><use href="#m" x="878.7" y="548.6"/><use href="#m" x="881.1" y="548.5"/><use href="#m" x="883.5" y="545.5"/><use href="#m" x="885.9" y="548.3"/><use href="#m" x="888.3" y="547.2"/><use href="#m" x="890.7" y="550.0"/><use href="#m" x="893.1" y="549.9"/><use href="#m" x="895.5" y="551.0"/><use href="#m" x="897.9" y="550.3"/><use href="#m" x="900.3" y="553.7"/><use href="#m" x="902.7" y="554.7"/><use href="#m" x="905.1" y="552.7"/><use href="#m" x="907.5" y="554.9"/><use href="#m" x="909.9" y="554.7"/><use href="#m" x="912.3" y="556.1"/><use href="#m" x="914.7" y="555.7"/><use href="#m" x="917.1" y="559.2"/><use href="#m" x="919.5" y="557.2"/><use href="#m" x="921.9" y="558.4"/><use href="#m" x="924.3" y="559.7"/><use href="#m" x="926.7" y="559.3"/><use href="#m" x="929.1" y="560.3"/><use href="#m" x="931.5" y="560.5"/><use href="#m" x="933.9" y="561.5"/><use href="#m" x="936.3" y="561.2"/></g>
<g fill="none" stroke-width="4.3" stroke-linejoin="round" stroke-linecap="butt">
<path d="M159.0,29.0C159.4,64.0 159.8,100.2 160.3,133.9C160.7,165.3 161.1,198.4 161.7,225.0C162.1,245.6 162.7,260.0 163.2,280.0C163.8,304.2 164.2,337.9 164.8,360.0C165.2,375.6 165.5,386.7 166.0,400.0C166.5,413.3 167.1,426.7 167.8,440.0C168.5,453.3 169.1,468.2 170.0,480.0C170.7,489.3 171.8,498.4 172.5,505.0C173.0,509.3 173.2,512.1 173.7,515.6C174.2,519.1 174.8,522.3 175.5,526.0C176.3,530.3 177.3,535.8 178.0,540.0C178.6,543.5 178.6,546.7 179.6,549.6C180.5,552.3 182.4,554.2 183.3,557.0C184.3,560.2 184.4,564.3 185.0,568.0C185.6,571.7 185.8,575.8 187.0,579.3C188.1,582.5 190.3,584.9 191.5,588.1C192.8,591.7 193.0,597.2 194.4,600.0C195.3,601.8 196.3,603.0 197.5,604.0C198.6,604.9 200.0,606.1 201.1,606.0C202.1,605.9 203.1,604.9 204.0,604.0C205.1,603.0 206.0,601.8 207.0,600.0C208.7,597.2 210.4,592.3 212.2,588.1C214.1,583.5 216.0,577.9 218.1,573.3C220.0,569.1 222.1,566.0 224.1,561.5C226.6,555.9 229.3,548.5 231.5,542.0C233.6,535.7 235.2,529.9 237.0,523.0C239.2,514.8 241.5,505.5 243.5,496.0C245.7,485.6 247.7,474.3 249.6,463.0C251.6,451.3 253.4,438.8 255.2,427.0C257.0,415.5 258.9,404.3 260.4,393.0C261.9,381.9 263.4,367.0 264.4,360.0C264.8,356.7 265.1,356.0 265.5,352.8C266.4,346.1 267.8,332.3 269.1,322.0C270.4,311.8 271.6,299.7 273.2,291.3C274.3,285.3 275.4,280.1 277.0,276.0C278.2,273.0 279.8,268.7 281.2,268.5C282.3,268.4 283.6,270.4 284.5,272.0C285.8,274.4 286.4,278.0 287.2,282.0C288.4,287.6 289.3,295.7 290.3,302.6C291.3,309.4 292.3,316.3 293.3,323.1C294.3,329.9 295.4,336.8 296.4,343.6C297.4,350.4 298.6,357.7 299.5,364.1C300.3,369.7 300.9,374.1 301.5,380.0C302.3,387.4 302.7,395.9 303.5,405.0C304.4,416.1 305.1,430.0 306.8,442.0C308.5,453.6 310.7,466.0 313.7,476.1C316.2,484.6 318.6,492.7 322.8,498.9C326.5,504.3 333.0,512.1 336.8,511.8C339.9,511.6 342.4,506.3 344.4,502.5C346.9,497.9 347.9,491.3 349.5,485.6C351.0,480.0 352.4,473.9 353.7,468.7C354.9,464.2 356.0,460.2 357.1,456.0C358.2,451.8 359.2,447.5 360.5,443.3C361.8,439.1 363.2,434.9 364.7,430.7C366.3,426.5 367.9,421.9 369.8,418.0C371.6,414.4 373.5,410.8 375.7,407.9C377.7,405.3 380.1,402.4 382.4,401.1C384.1,400.1 385.8,399.8 387.5,399.8C389.2,399.8 390.9,400.2 392.6,401.1C394.6,402.2 396.5,404.5 398.5,406.2C400.5,407.9 402.2,409.9 404.4,411.3C406.6,412.7 409.0,414.5 411.6,414.6C414.4,414.7 417.6,412.2 420.7,411.2C423.7,410.3 426.9,408.4 429.8,408.9C433.0,409.4 436.1,412.1 439.0,414.6C442.3,417.5 445.0,421.7 448.1,426.0C451.8,431.3 455.8,438.9 459.5,444.2C462.6,448.5 465.3,453.1 468.6,455.6C471.1,457.5 473.9,459.0 476.5,459.0C479.2,459.0 482.0,457.6 484.5,455.6C487.9,452.8 491.2,446.2 493.6,442.0C495.5,438.6 496.3,435.7 498.2,432.3C500.6,428.1 503.6,421.5 507.3,418.7C510.3,416.4 514.1,415.0 517.6,415.3C521.6,415.7 526.0,420.0 530.1,422.1C534.0,424.1 537.6,426.7 541.5,427.8C545.2,428.9 549.1,429.3 552.9,428.9C556.7,428.5 560.5,426.6 564.3,425.5C568.1,424.4 572.0,421.8 575.7,422.1C579.6,422.4 583.5,425.2 587.1,427.8C591.2,430.7 594.7,436.5 598.5,439.2C601.5,441.4 604.4,443.6 607.6,443.7C611.2,443.8 615.3,441.0 619.0,439.2C622.9,437.3 626.2,433.8 630.3,432.3C634.5,430.7 639.2,430.7 644.0,430.1C649.1,429.5 654.5,428.9 660.0,428.9C665.9,428.9 671.5,429.8 678.2,430.1C686.4,430.4 696.9,430.5 705.6,430.5C713.5,430.5 720.7,429.8 728.3,430.1C735.9,430.4 743.7,431.7 751.1,432.3C758.1,432.8 765.2,434.0 771.6,433.5C777.3,433.1 782.5,431.1 787.6,430.1C792.3,429.2 796.7,427.6 801.2,427.8C805.8,428.0 810.4,430.4 814.9,431.2C819.1,431.9 822.8,432.5 827.3,432.5C832.8,432.5 839.5,431.2 845.6,430.6C851.7,430.0 857.9,429.6 863.8,429.0C869.3,428.5 874.5,427.1 879.8,427.4C885.1,427.7 890.6,429.7 895.7,430.6C900.4,431.4 904.8,432.5 909.4,432.5C914.0,432.5 918.5,430.8 923.1,430.6C927.6,430.4 932.2,431.1 936.7,431.3" stroke="#ff0000"/>
<path d="M162.8,29.0C163.4,64.0 163.9,100.2 164.6,133.9C165.2,165.3 166.0,198.4 166.8,225.0C167.4,245.6 167.9,263.1 168.6,280.0C169.2,294.4 169.9,306.7 170.5,320.0C171.1,333.3 171.3,347.7 172.2,360.0C173.0,370.6 174.0,381.4 175.2,389.6C176.1,395.4 177.3,399.0 178.1,404.4C179.1,410.7 179.8,419.5 180.5,425.0C180.9,428.6 180.9,430.6 181.6,434.0C182.4,438.4 184.5,444.1 185.6,448.9C186.6,453.4 187.2,457.9 187.9,462.0C188.5,465.6 188.8,468.9 189.5,472.0C190.2,474.8 190.7,477.8 192.0,480.0C193.1,481.8 195.0,484.6 196.1,484.4C197.2,484.2 197.6,480.2 198.7,478.5C199.6,477.0 201.2,476.4 202.0,474.8C203.0,472.9 203.3,470.0 203.9,467.4C204.6,464.4 205.1,460.4 206.1,457.8C206.9,455.7 208.4,454.7 209.1,452.6C210.1,449.7 210.0,444.6 210.6,441.5C211.0,439.2 211.2,437.4 212.0,435.6C212.9,433.7 214.7,432.3 215.7,430.4C216.7,428.5 216.8,425.9 218.0,424.4C219.1,423.0 221.1,422.9 222.4,421.5C223.9,419.9 224.6,416.7 226.1,414.8C227.4,413.1 229.4,412.3 230.6,410.4C232.1,407.9 232.5,404.0 233.5,400.7C234.5,397.1 235.7,393.6 236.5,389.6C237.5,385.0 238.0,379.7 238.7,374.8C239.4,369.9 239.7,366.1 240.6,360.0C242.1,350.3 245.4,334.9 247.1,322.0C248.8,308.6 249.4,294.7 250.6,281.0C251.8,267.3 253.0,251.7 254.2,240.0C255.1,231.2 255.8,224.9 256.8,216.8C257.9,207.8 259.3,198.2 260.3,188.3C261.4,177.4 262.2,165.5 263.1,154.1C264.1,142.7 264.9,131.2 266.0,119.8C267.0,108.4 268.0,95.8 269.4,85.6C270.6,77.2 271.7,69.0 273.4,62.8C274.6,58.3 276.1,51.4 277.6,51.4C279.1,51.4 281.1,58.3 282.5,62.8C284.4,69.0 285.3,77.2 286.5,85.6C287.9,95.8 288.9,108.4 289.9,119.8C291.0,131.2 291.7,142.7 292.8,154.1C293.8,165.5 295.1,177.4 296.2,188.3C297.2,198.2 298.1,207.8 299.0,216.8C299.8,224.9 300.8,232.4 301.5,240.0C302.2,247.3 302.4,253.7 303.1,261.5C304.0,270.9 305.4,282.0 306.7,292.3C308.0,302.6 309.2,313.3 310.8,323.1C312.3,332.1 314.0,341.0 315.9,348.7C317.5,355.1 318.9,361.7 321.0,366.2C322.5,369.5 324.4,373.7 326.2,374.0C327.5,374.2 328.7,372.4 330.0,371.0C331.8,369.0 334.1,365.9 335.5,362.5C337.3,358.2 337.7,352.4 338.9,347.0C340.2,341.1 341.6,334.5 343.0,328.3C344.4,322.2 346.0,315.9 347.4,310.0C348.7,304.5 349.7,299.6 351.2,294.2C352.8,288.3 355.0,281.9 356.8,276.0C358.5,270.5 360.2,264.9 361.8,260.0C363.2,255.7 364.5,251.8 366.0,248.0C367.4,244.5 368.8,241.3 370.6,238.2C372.4,235.0 374.6,231.8 376.8,229.0C378.8,226.4 380.8,223.4 383.0,221.8C384.8,220.6 386.7,219.7 388.6,219.7C390.5,219.7 392.5,220.6 394.2,221.8C396.2,223.2 397.7,225.7 399.4,227.9C401.2,230.2 402.8,232.8 404.5,235.1C406.2,237.3 407.7,239.9 409.6,241.3C411.2,242.4 413.0,243.1 414.7,243.3C416.4,243.5 418.2,242.8 419.9,242.3C421.5,241.8 422.8,240.5 424.5,240.3C426.4,240.1 429.1,240.4 431.0,241.5C433.2,242.8 434.9,245.3 436.7,248.3C439.3,252.8 441.3,260.3 443.5,266.6C445.8,273.2 447.9,280.8 450.3,287.1C452.5,292.8 454.7,299.5 457.2,303.0C458.8,305.2 460.4,307.5 462.2,307.6C464.4,307.7 467.3,304.4 469.4,301.8C472.1,298.4 474.2,292.7 476.3,288.1C478.3,283.6 480.1,278.8 481.7,274.4C483.1,270.4 484.0,266.6 485.5,263.0C486.9,259.6 488.6,256.5 490.5,253.5C492.3,250.5 493.9,247.3 496.5,245.0C499.1,242.7 502.9,240.0 506.2,239.9C509.5,239.8 512.9,242.1 516.4,244.4C520.9,247.3 525.2,253.9 530.1,257.0C534.4,259.8 539.4,262.4 543.8,262.6C547.7,262.8 551.4,260.3 555.2,259.2C559.0,258.1 562.8,255.8 566.6,255.8C570.4,255.8 574.1,257.3 577.9,259.2C582.5,261.5 586.6,267.0 591.6,269.5C596.5,271.9 602.8,274.3 607.6,274.0C611.7,273.8 615.4,271.9 618.9,269.5C623.0,266.6 626.3,260.5 630.3,257.0C633.9,253.8 637.7,249.8 641.7,249.0C645.3,248.2 649.4,249.9 653.1,251.3C657.0,252.8 661.1,256.7 664.5,258.1C667.0,259.1 668.8,259.3 671.4,259.7C674.7,260.2 679.1,259.4 682.8,260.4C686.7,261.5 690.2,264.2 694.2,266.1C698.5,268.2 703.5,272.4 707.8,272.4C711.8,272.4 715.5,269.3 719.2,267.2C723.1,265.0 726.4,261.1 730.6,259.2C734.8,257.3 739.7,256.6 744.3,255.8C748.8,255.0 753.5,253.8 758.0,254.2C762.6,254.6 767.1,256.5 771.6,258.1C776.2,259.7 780.7,262.4 785.3,263.8C789.8,265.2 794.4,265.9 799.0,266.5C803.5,267.1 808.1,267.9 812.6,267.2C817.5,266.4 822.1,263.1 827.3,261.5C833.0,259.7 839.3,258.0 845.6,257.0C852.2,255.9 859.7,255.0 866.1,255.4C871.8,255.8 876.9,257.8 882.0,258.8C886.7,259.8 890.9,261.0 895.7,261.5C900.8,262.0 906.6,260.7 911.7,261.5C916.5,262.3 921.0,264.7 925.3,266.1C929.3,267.4 932.9,268.4 936.7,269.5" stroke="#00c800"/>
<path d="M160.2,29.0C160.7,64.0 161.1,100.2 161.6,133.9C162.1,165.3 162.6,198.4 163.3,225.0C163.9,245.6 164.7,260.0 165.3,280.0C166.0,304.2 166.0,343.9 167.0,360.0C167.4,367.0 167.9,370.0 168.5,375.0C169.0,379.9 169.7,383.9 170.3,389.6C171.1,397.8 171.9,409.7 172.5,419.3C173.0,428.4 172.0,440.3 173.7,445.9C174.6,448.8 176.5,449.2 177.4,451.9C179.0,456.6 177.8,468.0 179.6,472.6C180.7,475.4 182.9,475.7 184.1,478.5C186.1,483.4 185.1,495.4 187.0,500.7C188.2,504.0 190.3,505.1 191.5,508.1C193.0,512.1 192.8,519.7 194.4,523.0C195.4,524.9 196.7,526.3 198.0,527.0C199.0,527.5 200.2,527.8 201.1,527.4C202.2,527.0 203.0,525.3 204.0,524.0C205.2,522.4 206.6,520.8 207.8,518.5C209.4,515.4 210.5,510.6 212.2,506.7C213.9,502.7 216.1,498.2 218.1,494.8C219.7,492.0 221.7,489.8 223.1,487.4C224.3,485.4 224.9,483.5 226.1,481.5C227.4,479.3 229.4,477.2 230.6,474.8C231.8,472.4 232.6,469.5 233.5,467.0C234.3,464.6 235.1,462.8 235.8,460.0C236.8,456.2 237.6,450.6 238.5,446.0C239.3,441.6 240.1,437.4 241.0,433.0C241.9,428.5 243.0,424.0 243.9,419.3C244.8,414.4 245.8,409.4 246.5,404.4C247.2,399.5 247.7,394.5 248.3,389.6C248.9,384.7 249.6,379.7 250.2,374.8C250.8,369.9 251.2,366.1 252.0,360.0C253.3,350.3 256.2,334.9 257.8,322.0C259.5,308.6 260.8,294.7 261.9,281.0C263.0,267.3 263.4,250.8 264.5,240.0C265.2,232.9 266.2,228.3 267.1,222.5C268.0,216.8 268.9,211.5 270.0,205.4C271.2,198.3 272.7,189.1 274.0,182.6C275.0,177.8 275.7,173.3 276.8,170.0C277.6,167.7 278.5,164.5 279.4,164.5C280.3,164.5 281.3,167.7 282.2,170.0C283.4,173.3 284.4,177.9 285.4,182.6C286.6,188.4 287.9,195.2 288.9,202.0C290.0,209.3 290.7,217.6 291.5,225.0C292.3,231.9 292.9,238.0 293.6,245.0C294.4,252.9 295.3,261.9 296.0,270.0C296.7,277.6 297.1,284.3 297.9,292.3C298.9,301.7 300.2,312.8 301.5,323.1C302.8,333.3 304.3,344.0 305.6,353.8C306.8,362.9 307.9,371.1 309.2,380.0C310.6,389.1 310.9,400.0 313.7,407.8C315.9,414.1 319.2,420.1 322.8,423.7C325.5,426.4 329.2,428.5 331.8,429.0C333.6,429.3 335.2,428.8 336.8,428.1C338.6,427.3 340.3,425.8 341.9,423.9C344.0,421.4 346.1,417.7 347.8,413.8C349.9,409.0 351.4,402.6 352.9,396.9C354.4,391.3 355.4,384.7 356.7,380.0C357.6,376.5 358.6,374.0 359.5,371.0C360.4,368.1 361.2,366.0 362.2,362.5C363.7,357.2 365.5,348.8 367.6,342.0C369.8,335.1 372.7,327.1 375.2,321.5C377.0,317.5 378.5,314.7 380.5,311.5C382.6,308.2 385.3,303.3 387.5,301.8C388.8,300.9 389.8,300.6 391.2,300.8C393.2,301.1 396.1,303.1 398.3,304.9C400.6,306.8 402.5,309.5 404.5,312.1C406.6,314.9 408.5,318.4 410.6,321.3C412.6,324.1 414.5,327.4 416.8,329.5C418.7,331.3 421.1,332.4 423.0,333.6C424.6,334.7 425.9,335.9 427.6,336.5C429.3,337.2 431.2,336.8 433.0,337.5C434.9,338.2 437.0,339.4 438.7,341.0C440.7,342.8 442.2,345.1 444.0,348.0C446.7,352.3 449.4,359.6 452.6,364.5C455.4,368.8 458.5,372.8 461.7,375.9C464.6,378.7 467.8,382.7 470.8,382.7C473.9,382.7 477.3,379.3 480.0,375.9C483.8,371.2 486.1,362.3 489.1,355.4C492.2,348.4 495.0,340.2 498.2,334.0C500.8,328.9 503.0,323.2 506.2,320.7C508.6,318.9 511.4,317.9 514.2,318.5C517.8,319.2 522.0,324.1 525.6,327.6C529.6,331.5 533.4,337.0 537.0,341.2C540.2,344.9 542.7,349.0 546.1,351.5C549.2,353.8 552.9,356.2 556.3,356.0C559.8,355.8 562.9,352.4 566.6,350.3C570.8,347.9 575.9,342.4 580.2,342.4C584.2,342.4 587.6,346.9 591.6,349.2C596.0,351.8 601.0,357.2 605.3,357.2C609.3,357.2 612.7,353.0 616.7,350.3C621.4,347.1 626.6,339.8 631.5,339.0C635.7,338.4 639.9,342.2 644.0,343.5C647.9,344.8 651.2,346.6 655.4,346.9C660.2,347.3 666.5,344.5 671.4,344.6C675.5,344.7 678.7,346.2 682.8,346.9C687.6,347.7 693.9,349.3 698.7,349.2C702.8,349.1 706.1,347.6 710.1,346.9C714.5,346.1 719.2,344.9 723.8,344.6C728.3,344.3 732.4,345.3 737.4,345.3C743.6,345.4 751.9,343.9 758.0,344.6C763.0,345.2 767.0,347.2 771.6,348.1C776.1,348.9 781.0,350.2 785.3,349.7C789.3,349.3 792.7,347.0 796.7,345.8C801.0,344.5 805.8,342.2 810.3,342.4C814.9,342.6 819.2,345.4 824.0,346.9C829.1,348.5 834.7,351.9 840.0,351.5C845.7,351.1 851.3,345.7 857.0,343.6C862.3,341.6 867.8,338.9 872.9,339.0C877.7,339.1 882.6,341.5 886.6,343.6C890.1,345.4 892.3,348.7 895.7,350.4C899.1,352.1 903.1,353.9 907.1,353.8C911.5,353.7 916.0,350.8 920.8,349.3C925.9,347.7 931.4,346.2 936.7,344.7" stroke="#0000ff"/>
</g>
<line x1="387" y1="193.1" x2="387" y2="601.4" stroke="#333" stroke-width="1.5" stroke-dasharray="9.6 5.9"/>
<line x1="432.6" y1="193.1" x2="432.6" y2="601.4" stroke="#333" stroke-width="1.5" stroke-dasharray="9.6 5.9"/>
<g fill="#f00" fill-rule="evenodd"><use href="#m" x="140.5" y="1652.0"/><use href="#m" x="142.7" y="1652.4"/><use href="#m" x="144.9" y="1652.0"/><use href="#m" x="147.1" y="1650.8"/><use href="#m" x="149.3" y="1652.6"/><use href="#m" x="151.5" y="1652.2"/><use href="#m" x="153.7" y="1651.4"/><use href="#m" x="155.9" y="1652.4"/><use href="#m" x="158.1" y="1652.2"/><use href="#m" x="160.3" y="1652.1"/><use href="#m" x="162.5" y="1651.9"/><use href="#m" x="164.7" y="1652.3"/><use href="#m" x="166.9" y="1651.3"/><use href="#m" x="169.1" y="1651.7"/><use href="#m" x="171.3" y="1651.4"/><use href="#m" x="173.5" y="1652.3"/><use href="#m" x="175.7" y="1651.8"/><use href="#m" x="177.9" y="1651.5"/><use href="#m" x="180.1" y="1651.1"/><use href="#m" x="182.3" y="1651.5"/><use href="#m" x="184.5" y="1651.7"/><use href="#m" x="186.7" y="1651.4"/><use href="#m" x="188.9" y="1652.7"/><use href="#m" x="191.1" y="1652.4"/><use href="#m" x="193.3" y="1649.4"/><use href="#m" x="195.5" y="1650.1"/><use href="#m" x="197.7" y="1651.4"/><use href="#m" x="199.9" y="1651.2"/><use href="#m" x="202.1" y="1651.6"/><use href="#m" x="204.3" y="1651.5"/><use href="#m" x="206.5" y="1652.7"/><use href="#m" x="208.7" y="1649.8"/><use href="#m" x="210.9" y="1649.9"/><use href="#m" x="213.1" y="1649.7"/><use href="#m" x="215.5" y="1644.6"/><use href="#m" x="220.5" y="1645.3"/><use href="#m" x="225.0" y="1646.2"/><use href="#m" x="229.8" y="1636.7"/><use href="#m" x="233.5" y="1634.8"/><use href="#m" x="236.9" y="1622.4"/><use href="#m" x="238.5" y="1620.0"/><use href="#m" x="241.7" y="1605.0"/><use href="#m" x="243.5" y="1583.8"/><use href="#m" x="246.0" y="1580.3"/><use href="#m" x="249.8" y="1545.8"/><use href="#m" x="254.3" y="1490.0"/><use href="#m" x="257.7" y="1410.3"/><use href="#m" x="262.4" y="1333.6"/><use href="#m" x="266.4" y="1219.1"/><use href="#m" x="269.5" y="1144.9"/><use href="#m" x="271.6" y="1136.8"/><use href="#m" x="273.8" y="1102.8"/><use href="#m" x="275.7" y="1100.5"/><use href="#m" x="278.2" y="1053.8"/><use href="#m" x="282.7" y="1120.6"/><use href="#m" x="285.7" y="1185.9"/><use href="#m" x="290.8" y="1258.8"/><use href="#m" x="294.9" y="1329.1"/><use href="#m" x="298.9" y="1408.5"/><use href="#m" x="303.2" y="1471.0"/><use href="#m" x="307.3" y="1502.0"/><use href="#m" x="311.5" y="1513.2"/><use href="#m" x="315.3" y="1532.8"/><use href="#m" x="319.6" y="1544.2"/><use href="#m" x="323.8" y="1549.1"/><use href="#m" x="328.0" y="1552.3"/><use href="#m" x="332.2" y="1553.3"/><use href="#m" x="336.5" y="1553.3"/><use href="#m" x="340.7" y="1550.1"/><use href="#m" x="344.9" y="1545.9"/><use href="#m" x="349.1" y="1533.7"/><use href="#m" x="353.4" y="1521.6"/><use href="#m" x="357.0" y="1505.4"/><use href="#m" x="361.4" y="1482.6"/><use href="#m" x="365.6" y="1461.0"/><use href="#m" x="369.8" y="1431.3"/><use href="#m" x="373.4" y="1398.5"/><use href="#m" x="377.9" y="1376.5"/><use href="#m" x="381.4" y="1358.3"/><use href="#m" x="385.9" y="1353.7"/><use href="#m" x="390.5" y="1357.1"/><use href="#m" x="393.9" y="1369.7"/><use href="#m" x="398.5" y="1377.6"/><use href="#m" x="401.9" y="1397.3"/><use href="#m" x="406.3" y="1401.8"/><use href="#m" x="410.4" y="1412.9"/><use href="#m" x="414.5" y="1417.9"/><use href="#m" x="418.8" y="1422.4"/><use href="#m" x="423.1" y="1428.7"/><use href="#m" x="427.3" y="1436.1"/><use href="#m" x="432.1" y="1444.5"/><use href="#m" x="437.8" y="1453.0"/><use href="#m" x="443.1" y="1462.5"/><use href="#m" x="447.3" y="1469.9"/><use href="#m" x="451.6" y="1476.2"/><use href="#m" x="455.8" y="1480.4"/><use href="#m" x="460.0" y="1481.5"/><use href="#m" x="464.2" y="1479.4"/><use href="#m" x="468.5" y="1476.2"/><use href="#m" x="472.7" y="1470.9"/><use href="#m" x="480.0" y="1457.6"/><use href="#m" x="483.8" y="1448.3"/><use href="#m" x="487.8" y="1438.8"/><use href="#m" x="492.0" y="1429.8"/><use href="#m" x="496.1" y="1420.8"/><use href="#m" x="499.9" y="1411.8"/><use href="#m" x="502.4" y="1408.5"/><use href="#m" x="504.8" y="1406.7"/><use href="#m" x="507.2" y="1405.4"/><use href="#m" x="509.6" y="1404.6"/><use href="#m" x="512.0" y="1407.3"/><use href="#m" x="514.4" y="1408.9"/><use href="#m" x="516.8" y="1409.8"/><use href="#m" x="519.2" y="1413.0"/><use href="#m" x="521.6" y="1416.9"/><use href="#m" x="524.0" y="1419.9"/><use href="#m" x="526.4" y="1424.2"/><use href="#m" x="528.8" y="1428.2"/><use href="#m" x="531.2" y="1432.4"/><use href="#m" x="533.6" y="1435.7"/><use href="#m" x="536.0" y="1439.7"/><use href="#m" x="538.4" y="1443.0"/><use href="#m" x="540.8" y="1445.5"/><use href="#m" x="543.2" y="1447.2"/><use href="#m" x="545.6" y="1451.0"/><use href="#m" x="548.0" y="1451.9"/><use href="#m" x="550.4" y="1455.0"/><use href="#m" x="552.8" y="1454.5"/><use href="#m" x="555.2" y="1457.0"/><use href="#m" x="557.6" y="1456.7"/><use href="#m" x="560.0" y="1455.8"/><use href="#m" x="562.4" y="1456.6"/><use href="#m" x="564.8" y="1456.9"/><use href="#m" x="567.2" y="1457.1"/><use href="#m" x="569.6" y="1455.6"/><use href="#m" x="572.0" y="1454.5"/><use href="#m" x="574.4" y="1454.5"/><use href="#m" x="576.8" y="1452.4"/><use href="#m" x="579.2" y="1451.2"/><use href="#m" x="581.6" y="1450.2"/><use href="#m" x="584.0" y="1446.7"/><use href="#m" x="586.4" y="1447.3"/><use href="#m" x="588.8" y="1447.3"/><use href="#m" x="591.2" y="1445.1"/><use href="#m" x="593.6" y="1443.9"/><use href="#m" x="596.0" y="1444.3"/><use href="#m" x="598.4" y="1442.6"/><use href="#m" x="600.8" y="1441.9"/><use href="#m" x="603.2" y="1439.6"/><use href="#m" x="605.6" y="1437.4"/><use href="#m" x="608.0" y="1437.5"/><use href="#m" x="610.4" y="1436.0"/><use href="#m" x="612.8" y="1435.8"/><use href="#m" x="615.2" y="1434.1"/><use href="#m" x="617.6" y="1431.3"/><use href="#m" x="620.0" y="1430.5"/><use href="#m" x="622.4" y="1431.1"/><use href="#m" x="624.8" y="1429.6"/><use href="#m" x="627.2" y="1427.2"/><use href="#m" x="629.6" y="1427.0"/><use href="#m" x="632.0" y="1426.9"/><use href="#m" x="634.4" y="1426.6"/><use href="#m" x="636.8" y="1427.0"/><use href="#m" x="639.2" y="1426.8"/><use href="#m" x="641.6" y="1427.1"/><use href="#m" x="644.0" y="1427.7"/><use href="#m" x="646.4" y="1430.2"/><use href="#m" x="648.8" y="1428.5"/><use href="#m" x="651.2" y="1431.6"/><use href="#m" x="653.6" y="1432.9"/><use href="#m" x="656.0" y="1432.9"/><use href="#m" x="658.4" y="1436.0"/><use href="#m" x="660.8" y="1436.8"/><use href="#m" x="663.2" y="1439.8"/><use href="#m" x="665.6" y="1440.5"/><use href="#m" x="668.0" y="1442.8"/><use href="#m" x="670.4" y="1444.8"/><use href="#m" x="672.8" y="1445.7"/><use href="#m" x="675.2" y="1446.2"/><use href="#m" x="677.6" y="1447.3"/><use href="#m" x="680.0" y="1452.1"/><use href="#m" x="682.4" y="1451.9"/><use href="#m" x="684.8" y="1452.0"/><use href="#m" x="687.2" y="1453.1"/><use href="#m" x="689.6" y="1453.1"/><use href="#m" x="692.0" y="1454.2"/><use href="#m" x="694.4" y="1453.5"/><use href="#m" x="696.8" y="1453.3"/><use href="#m" x="699.2" y="1451.8"/><use href="#m" x="701.6" y="1451.7"/><use href="#m" x="704.0" y="1449.0"/><use href="#m" x="706.4" y="1449.4"/><use href="#m" x="708.8" y="1448.9"/><use href="#m" x="711.2" y="1444.7"/><use href="#m" x="713.6" y="1442.4"/><use href="#m" x="716.0" y="1443.7"/><use href="#m" x="718.4" y="1444.0"/><use href="#m" x="720.8" y="1439.4"/><use href="#m" x="723.2" y="1437.7"/><use href="#m" x="725.6" y="1437.9"/><use href="#m" x="728.0" y="1435.2"/><use href="#m" x="730.4" y="1434.1"/><use href="#m" x="732.8" y="1433.0"/><use href="#m" x="735.2" y="1432.6"/><use href="#m" x="737.6" y="1430.4"/><use href="#m" x="740.0" y="1429.7"/><use href="#m" x="742.4" y="1428.2"/><use href="#m" x="744.8" y="1426.8"/><use href="#m" x="747.2" y="1427.0"/><use href="#m" x="749.6" y="1426.7"/><use href="#m" x="752.0" y="1428.2"/><use href="#m" x="754.4" y="1428.1"/><use href="#m" x="756.8" y="1429.1"/><use href="#m" x="759.2" y="1432.5"/><use href="#m" x="761.6" y="1432.1"/><use href="#m" x="764.0" y="1433.3"/><use href="#m" x="766.4" y="1435.1"/><use href="#m" x="768.8" y="1435.6"/><use href="#m" x="771.2" y="1437.0"/><use href="#m" x="773.6" y="1438.8"/><use href="#m" x="776.0" y="1439.6"/><use href="#m" x="778.4" y="1439.1"/><use href="#m" x="780.8" y="1441.7"/><use href="#m" x="783.2" y="1441.2"/><use href="#m" x="785.6" y="1441.5"/><use href="#m" x="788.0" y="1442.4"/><use href="#m" x="790.4" y="1443.5"/><use href="#m" x="792.8" y="1446.0"/><use href="#m" x="795.2" y="1444.2"/><use href="#m" x="797.6" y="1446.0"/><use href="#m" x="800.0" y="1444.4"/><use href="#m" x="802.4" y="1446.7"/><use href="#m" x="804.8" y="1447.8"/><use href="#m" x="807.2" y="1447.1"/><use href="#m" x="809.6" y="1447.0"/><use href="#m" x="812.0" y="1447.9"/><use href="#m" x="814.4" y="1448.4"/><use href="#m" x="816.8" y="1448.4"/><use href="#m" x="819.2" y="1449.3"/><use href="#m" x="821.6" y="1447.3"/><use href="#m" x="824.0" y="1446.1"/><use href="#m" x="826.4" y="1446.0"/><use href="#m" x="828.8" y="1445.5"/><use href="#m" x="831.2" y="1445.1"/><use href="#m" x="833.6" y="1444.2"/><use href="#m" x="836.0" y="1443.6"/><use href="#m" x="838.4" y="1441.0"/><use href="#m" x="840.8" y="1442.4"/><use href="#m" x="843.2" y="1440.2"/><use href="#m" x="845.6" y="1438.7"/><use href="#m" x="848.0" y="1439.2"/><use href="#m" x="850.4" y="1438.8"/><use href="#m" x="852.8" y="1437.0"/><use href="#m" x="855.2" y="1435.8"/><use href="#m" x="857.6" y="1434.0"/><use href="#m" x="860.0" y="1436.7"/><use href="#m" x="862.4" y="1434.3"/><use href="#m" x="864.8" y="1432.0"/><use href="#m" x="867.2" y="1431.8"/><use href="#m" x="869.6" y="1432.0"/><use href="#m" x="872.0" y="1430.0"/><use href="#m" x="874.4" y="1431.2"/><use href="#m" x="876.8" y="1430.4"/><use href="#m" x="879.2" y="1431.9"/><use href="#m" x="881.6" y="1431.8"/><use href="#m" x="884.0" y="1428.8"/><use href="#m" x="886.4" y="1431.6"/><use href="#m" x="888.8" y="1430.5"/><use href="#m" x="891.2" y="1433.3"/><use href="#m" x="893.6" y="1433.2"/><use href="#m" x="896.0" y="1434.3"/><use href="#m" x="898.4" y="1433.6"/><use href="#m" x="900.8" y="1437.0"/><use href="#m" x="903.2" y="1438.0"/><use href="#m" x="905.6" y="1436.0"/><use href="#m" x="908.0" y="1438.2"/><use href="#m" x="910.4" y="1438.0"/><use href="#m" x="912.8" y="1439.4"/><use href="#m" x="915.2" y="1439.0"/><use href="#m" x="917.6" y="1442.5"/><use href="#m" x="920.0" y="1440.5"/><use href="#m" x="922.4" y="1441.7"/><use href="#m" x="924.8" y="1443.0"/><use href="#m" x="927.2" y="1442.6"/><use href="#m" x="929.6" y="1443.6"/><use href="#m" x="932.0" y="1443.8"/><use href="#m" x="934.4" y="1444.8"/><use href="#m" x="936.8" y="1444.5"/></g>
<g fill="none" stroke-width="4.3" stroke-linejoin="round" stroke-linecap="butt">
<path d="M156.5,912.0C157.0,954.6 157.5,1000.7 158.1,1039.7C158.6,1072.6 159.1,1100.4 159.7,1130.8C160.3,1161.2 161.0,1197.5 161.6,1221.9C162.0,1238.3 162.4,1247.6 162.7,1263.0C163.1,1282.9 163.3,1308.5 163.8,1331.3C164.3,1354.1 164.7,1380.8 165.7,1399.7C166.4,1413.0 167.2,1423.6 168.4,1433.8C169.4,1442.2 170.9,1448.2 171.8,1456.6C172.9,1466.8 171.9,1484.9 174.1,1490.8C175.0,1493.2 176.6,1493.0 177.5,1495.3C179.7,1500.7 178.6,1520.1 180.9,1525.0C181.8,1526.9 183.3,1526.7 184.3,1528.4C186.0,1531.5 186.0,1542.5 187.8,1543.2C188.8,1543.6 190.1,1540.7 191.2,1540.9C192.6,1541.2 193.9,1546.6 195.3,1546.6C196.6,1546.6 197.6,1542.5 199.1,1542.0C200.4,1541.6 202.4,1543.8 203.7,1543.2C205.3,1542.5 205.9,1539.0 207.1,1536.4C208.6,1533.1 210.1,1528.6 211.7,1525.0C213.2,1521.7 214.7,1518.9 216.2,1515.8C217.7,1512.8 219.4,1510.1 220.8,1506.7C222.5,1502.7 223.7,1497.3 225.3,1493.0C226.8,1489.0 228.5,1486.0 229.9,1481.7C231.6,1476.4 232.8,1469.4 234.4,1463.5C235.9,1458.0 237.6,1453.5 239.0,1447.5C240.7,1440.1 242.2,1431.4 243.6,1422.5C245.2,1412.5 246.6,1401.6 248.1,1390.6C249.7,1378.8 251.3,1366.1 252.7,1354.1C254.0,1342.5 255.1,1332.8 256.1,1320.0C257.4,1303.4 258.2,1276.7 259.5,1263.0C260.2,1255.2 261.0,1252.5 261.8,1244.7C263.2,1231.0 264.7,1205.6 266.3,1187.7C267.7,1171.7 269.1,1155.4 270.9,1142.2C272.3,1131.9 273.5,1119.6 275.5,1114.8C276.3,1112.8 277.3,1111.0 278.2,1111.0C279.1,1111.0 280.2,1112.8 281.1,1114.8C283.2,1119.6 284.2,1131.9 285.7,1142.2C287.6,1155.4 289.7,1172.5 291.4,1187.7C293.1,1202.9 294.4,1218.9 296.0,1233.3C297.4,1246.2 299.0,1255.5 300.5,1270.0C302.6,1291.1 304.2,1325.3 306.8,1347.7C308.8,1365.0 310.6,1379.8 313.7,1393.3C316.2,1404.3 318.4,1415.5 322.8,1422.9C326.2,1428.5 331.3,1435.7 335.3,1435.4C339.6,1435.0 344.1,1425.7 347.5,1418.4C352.3,1408.0 354.3,1391.1 357.5,1377.4C360.7,1363.7 363.3,1348.5 366.5,1336.3C369.2,1326.2 371.5,1316.0 375.0,1309.0C377.5,1303.9 380.5,1300.4 383.5,1297.0C386.1,1294.1 389.0,1292.0 391.5,1289.5C393.8,1287.2 395.5,1284.4 397.9,1282.8C400.0,1281.3 402.6,1279.5 404.8,1279.8C407.2,1280.1 409.6,1282.5 411.6,1285.1C414.5,1288.9 416.3,1296.2 418.5,1302.2C420.9,1308.7 423.0,1316.1 425.3,1322.7C427.5,1329.0 429.4,1335.1 432.1,1340.9C434.7,1346.5 437.5,1352.7 441.2,1356.8C444.5,1360.4 448.6,1363.3 452.6,1364.8C456.2,1366.2 460.0,1366.0 464.0,1366.0C468.4,1366.0 474.0,1366.9 477.7,1364.8C481.7,1362.5 484.3,1356.9 486.8,1352.0C489.7,1346.5 491.6,1338.7 493.6,1333.0C495.3,1328.3 496.4,1324.7 498.2,1320.2C500.2,1315.1 502.0,1307.0 505.1,1304.2C507.1,1302.4 509.7,1301.6 511.9,1302.0C514.6,1302.5 517.5,1305.9 519.9,1308.8C522.9,1312.4 524.7,1318.8 527.8,1322.5C530.5,1325.8 533.5,1328.2 536.9,1330.4C540.4,1332.7 544.5,1334.0 548.3,1336.1C552.1,1338.2 555.8,1341.3 559.7,1343.0C563.4,1344.6 567.3,1346.6 571.1,1346.4C574.9,1346.2 578.7,1343.3 582.5,1341.8C586.3,1340.3 589.9,1338.6 593.9,1337.3C598.2,1335.9 602.8,1334.2 607.6,1333.8C612.7,1333.4 618.8,1335.9 623.5,1335.0C627.7,1334.2 631.0,1331.0 634.9,1329.3C638.9,1327.6 643.5,1324.4 647.4,1324.7C651.1,1325.0 654.5,1328.1 657.7,1330.4C661.0,1332.7 663.5,1336.7 666.8,1338.4C669.7,1339.9 672.7,1340.5 675.9,1340.8C679.5,1341.1 683.3,1340.1 687.3,1339.7C691.7,1339.3 696.2,1339.6 701.0,1338.5C706.7,1337.2 713.2,1332.5 719.2,1331.7C724.6,1331.0 729.7,1333.6 735.2,1333.3C741.1,1333.0 747.8,1329.1 753.4,1329.4C758.3,1329.7 762.5,1332.5 767.1,1334.0C771.6,1335.5 775.8,1338.2 780.7,1338.5C786.3,1338.9 793.1,1335.2 799.0,1335.1C804.5,1335.0 809.5,1337.7 814.9,1337.4C820.5,1337.1 826.0,1332.9 831.9,1333.0C838.4,1333.1 845.6,1338.9 852.4,1338.7C859.3,1338.5 866.2,1332.5 872.9,1331.8C879.1,1331.2 885.3,1334.2 891.2,1334.1C896.7,1334.0 902.1,1331.2 907.1,1331.8C911.9,1332.4 916.7,1335.9 920.8,1337.5C924.1,1338.8 927.1,1340.8 929.9,1340.9C932.3,1341.0 934.4,1339.4 936.7,1338.7" stroke="#ff0000"/>
<path d="M158.2,912.0C158.4,934.7 158.7,958.1 158.9,980.0C159.1,1000.5 158.9,1017.7 159.3,1039.7C159.7,1066.9 160.8,1102.6 161.6,1130.8C162.3,1155.2 163.2,1179.2 163.8,1199.1C164.3,1214.5 164.6,1227.7 165.0,1240.0C165.3,1250.1 165.7,1258.8 166.1,1267.5C166.5,1275.5 166.1,1283.7 167.3,1290.3C168.3,1295.5 170.6,1298.6 171.8,1304.0C173.5,1311.5 173.6,1324.7 175.2,1331.3C176.2,1335.2 177.6,1336.5 178.6,1340.4C180.2,1347.0 180.6,1360.7 182.1,1367.8C183.1,1372.5 184.5,1374.8 185.5,1379.2C186.8,1385.0 187.1,1395.5 188.9,1399.7C189.8,1401.9 191.3,1402.3 192.3,1404.2C193.6,1406.6 193.8,1412.7 195.3,1413.3C196.3,1413.7 197.9,1411.1 199.1,1411.1C200.3,1411.1 201.4,1413.4 202.6,1413.3C204.1,1413.1 205.5,1409.7 207.1,1408.8C208.5,1408.0 210.3,1408.5 211.7,1407.6C213.4,1406.5 214.8,1404.3 216.2,1402.0C218.0,1399.0 219.4,1394.8 220.8,1390.6C222.5,1385.8 223.8,1379.9 225.3,1374.6C226.8,1369.3 228.4,1364.2 229.9,1358.7C231.5,1352.8 232.9,1346.7 234.4,1340.4C236.0,1333.8 237.7,1325.6 239.0,1320.0C239.9,1316.1 240.7,1313.7 241.4,1310.0C242.3,1305.3 242.7,1299.7 243.5,1294.1C244.4,1287.7 245.6,1280.4 246.5,1273.6C247.4,1266.8 248.2,1259.9 249.1,1253.1C250.0,1246.3 250.8,1239.4 251.7,1232.6C252.5,1225.8 253.4,1218.9 254.2,1212.1C255.1,1205.2 255.9,1198.4 256.8,1191.5C257.7,1184.7 258.5,1177.8 259.4,1171.0C260.2,1164.2 261.1,1157.3 261.9,1150.5C262.7,1143.7 263.4,1135.8 264.0,1130.0C264.4,1125.8 264.6,1123.0 265.1,1119.0C265.7,1114.3 266.8,1108.7 267.7,1103.6C268.7,1098.5 269.8,1093.3 270.8,1088.2C271.8,1083.1 272.5,1076.4 273.8,1072.8C274.6,1070.7 275.4,1069.1 276.5,1068.0C277.4,1067.2 278.6,1066.3 279.5,1066.5C280.6,1066.7 281.7,1068.1 282.5,1069.5C283.7,1071.5 284.3,1075.0 285.1,1077.9C286.0,1081.1 286.7,1084.5 287.5,1088.0C288.4,1091.9 289.4,1095.8 290.3,1100.5C291.4,1106.5 292.4,1114.2 293.3,1121.0C294.2,1127.8 295.0,1134.7 295.9,1141.5C296.8,1148.4 297.6,1155.2 298.5,1162.1C299.3,1168.9 300.1,1175.8 301.0,1182.6C301.9,1189.4 303.1,1196.3 304.1,1203.1C305.1,1209.9 306.3,1216.8 307.2,1223.6C308.1,1230.4 308.9,1237.7 309.7,1244.1C310.4,1249.7 311.0,1255.6 311.8,1260.0C312.4,1263.1 312.9,1264.4 313.7,1268.0C315.3,1275.1 317.8,1292.1 320.5,1299.9C322.2,1304.7 323.7,1308.5 326.0,1311.0C327.7,1312.9 329.9,1315.0 331.9,1314.7C334.8,1314.3 338.4,1308.5 341.0,1304.5C343.9,1300.0 345.6,1294.2 347.8,1288.5C350.2,1282.1 352.5,1275.0 354.7,1268.0C357.0,1260.6 359.1,1252.3 361.5,1245.2C363.7,1238.8 365.7,1233.0 368.3,1227.0C371.0,1220.9 374.1,1214.0 377.4,1208.8C380.2,1204.4 383.3,1200.3 386.6,1197.4C389.4,1194.9 392.6,1192.0 395.7,1191.7C398.7,1191.4 401.9,1193.5 404.8,1195.1C408.0,1196.8 411.0,1199.2 413.9,1202.0C417.1,1205.1 420.3,1209.4 423.0,1213.3C425.6,1217.0 427.5,1220.9 429.8,1224.7C432.1,1228.5 433.9,1233.9 436.7,1236.1C438.7,1237.7 441.2,1238.0 443.5,1238.4C445.7,1238.8 448.0,1238.2 450.3,1238.4C452.6,1238.6 455.1,1238.3 457.2,1239.5C459.8,1240.9 461.3,1244.9 464.0,1247.5C467.2,1250.6 471.8,1256.5 475.4,1256.6C478.6,1256.7 482.1,1252.6 484.5,1249.8C486.9,1247.0 488.1,1243.4 490.0,1240.0C491.9,1236.5 493.4,1232.4 495.9,1229.1C498.4,1225.7 501.4,1222.3 505.1,1220.0C509.0,1217.5 514.1,1215.3 518.7,1214.9C523.2,1214.5 527.8,1216.7 532.4,1217.7C537.0,1218.7 542.1,1219.4 546.1,1221.1C549.6,1222.6 552.2,1224.8 555.2,1226.8C558.3,1228.9 560.9,1232.0 564.3,1233.6C567.7,1235.2 571.9,1236.6 575.7,1236.4C579.5,1236.2 583.3,1233.7 587.1,1232.5C590.9,1231.3 594.7,1229.3 598.5,1229.1C602.3,1228.9 605.8,1230.6 609.8,1231.3C614.1,1232.0 619.1,1233.3 623.5,1233.2C627.5,1233.1 631.2,1232.3 634.9,1231.3C638.8,1230.2 642.3,1228.1 646.3,1226.8C650.6,1225.4 656.2,1224.3 660.0,1223.5C662.6,1223.0 664.5,1221.9 666.8,1222.4C669.7,1223.0 672.3,1226.5 675.9,1228.1C680.4,1230.1 686.7,1232.3 691.9,1232.6C696.6,1232.9 700.8,1230.9 705.6,1230.3C710.7,1229.7 716.2,1229.6 721.5,1229.2C726.8,1228.7 731.9,1227.5 737.4,1227.6C743.3,1227.7 749.8,1230.0 755.7,1229.9C761.2,1229.8 766.8,1227.4 771.6,1227.6C775.7,1227.8 779.2,1229.5 783.0,1230.3C786.8,1231.1 790.8,1232.5 794.4,1232.2C797.6,1232.0 800.4,1230.2 803.5,1229.2C806.8,1228.1 810.1,1226.1 813.7,1226.0C817.7,1225.9 822.2,1228.3 826.3,1229.2C830.2,1230.1 833.8,1231.1 837.7,1231.5C841.7,1231.9 845.9,1231.9 850.1,1231.5C854.6,1231.1 858.9,1230.1 863.8,1229.2C869.4,1228.2 876.1,1225.9 882.0,1225.8C887.5,1225.7 892.7,1227.6 898.0,1228.1C903.3,1228.6 908.8,1228.2 913.9,1228.6C918.6,1229.0 923.5,1230.1 927.6,1230.4C930.9,1230.6 933.7,1230.4 936.7,1230.4" stroke="#0033ff"/>
<path d="M159.9,912.0C160.3,934.7 160.6,958.1 161.1,980.0C161.6,1000.5 162.1,1017.7 162.7,1039.7C163.4,1066.9 163.9,1104.0 165.0,1130.8C165.9,1152.0 166.7,1171.8 168.4,1187.7C169.6,1199.2 171.4,1208.7 172.9,1217.4C174.1,1224.2 175.2,1229.2 176.4,1235.6C177.8,1242.8 179.3,1251.2 180.9,1258.4C182.3,1264.9 184.1,1271.1 185.5,1276.7C186.7,1281.6 187.6,1285.8 188.9,1290.3C190.2,1294.9 191.5,1300.5 193.4,1304.0C194.7,1306.5 196.5,1308.0 198.0,1309.7C199.4,1311.2 200.6,1313.5 202.1,1313.6C203.7,1313.7 205.6,1311.4 207.1,1309.7C208.9,1307.6 210.1,1304.4 211.7,1301.7C213.5,1298.7 215.8,1295.4 217.4,1292.6C218.7,1290.2 219.6,1288.4 220.8,1285.8C222.3,1282.5 223.9,1277.6 225.3,1274.4C226.3,1272.1 227.2,1271.0 228.1,1268.5C229.5,1264.6 230.9,1258.6 232.2,1253.1C233.7,1246.8 235.1,1239.4 236.3,1232.6C237.5,1225.8 238.4,1218.9 239.4,1212.1C240.4,1205.2 241.5,1198.4 242.4,1191.5C243.3,1184.7 244.1,1177.8 245.0,1171.0C245.9,1164.2 246.8,1157.3 247.6,1150.5C248.4,1143.7 248.8,1137.6 249.6,1130.0C250.5,1120.6 251.7,1108.5 252.8,1098.5C253.8,1089.5 254.8,1080.9 255.9,1072.8C256.9,1065.6 258.0,1059.1 259.0,1052.3C260.0,1045.5 261.0,1038.6 262.1,1031.8C263.2,1025.0 264.3,1018.1 265.6,1011.3C266.9,1004.5 268.2,995.7 269.7,990.8C270.6,987.9 271.3,985.5 272.5,984.0C273.3,982.9 274.4,981.9 275.4,981.8C276.4,981.7 277.6,982.6 278.5,983.5C279.6,984.7 280.1,986.6 281.0,988.7C282.3,991.9 283.7,996.4 285.1,1001.0C286.8,1006.9 288.7,1014.6 290.3,1021.5C291.8,1028.3 293.1,1035.2 294.4,1042.1C295.7,1048.9 297.0,1056.0 298.0,1062.6C299.0,1068.6 299.5,1074.0 300.5,1080.0C301.6,1086.6 303.3,1093.7 304.6,1100.5C305.9,1107.3 307.0,1114.2 308.2,1121.0C309.4,1127.8 310.5,1134.9 311.8,1141.5C313.1,1147.8 314.3,1154.3 315.9,1160.0C317.4,1165.1 319.1,1170.1 321.0,1174.4C322.6,1178.2 323.9,1182.0 326.2,1184.6C328.2,1186.9 330.9,1188.5 333.3,1189.7C335.5,1190.8 337.7,1192.1 340.0,1191.8C342.6,1191.5 345.4,1189.5 347.8,1187.1C351.1,1183.8 354.0,1177.9 356.5,1172.3C359.4,1165.7 361.2,1157.0 363.5,1149.6C365.7,1142.6 367.8,1135.7 370.0,1129.1C372.1,1122.8 374.3,1116.1 376.5,1110.8C378.3,1106.5 379.8,1103.3 382.0,1099.4C384.5,1095.0 388.1,1089.4 391.1,1085.8C393.4,1083.0 395.4,1080.5 397.9,1079.0C400.0,1077.7 402.6,1076.4 404.8,1076.7C407.2,1077.0 409.6,1078.9 411.6,1081.2C414.4,1084.3 416.3,1089.9 418.5,1094.9C420.9,1100.5 423.0,1107.0 425.3,1113.1C427.6,1119.2 430.0,1125.9 432.1,1131.3C433.8,1135.6 434.8,1139.8 436.7,1143.0C438.3,1145.7 440.4,1149.4 442.4,1149.6C444.2,1149.8 446.3,1147.1 448.1,1145.0C450.5,1142.2 452.1,1136.5 454.9,1133.6C457.5,1131.0 460.9,1128.2 464.0,1127.9C467.0,1127.6 470.3,1130.1 473.1,1131.3C475.6,1132.3 477.8,1133.8 480.0,1134.5C482.0,1135.1 483.8,1136.3 485.7,1135.7C488.4,1134.9 491.0,1130.6 493.7,1127.7C496.7,1124.5 499.3,1119.7 502.8,1117.4C505.9,1115.4 509.6,1114.0 513.0,1114.0C516.4,1114.0 520.0,1116.4 523.3,1117.4C526.4,1118.3 529.4,1119.4 532.4,1119.7C535.1,1120.0 537.8,1118.8 540.4,1119.3C543.1,1119.8 545.7,1121.6 548.3,1123.1C551.0,1124.7 553.5,1127.5 556.3,1128.8C558.9,1130.0 561.7,1131.6 564.3,1131.1C567.4,1130.5 570.4,1126.7 573.4,1124.3C576.5,1121.8 579.4,1118.0 582.5,1116.3C585.1,1114.9 587.7,1113.7 590.5,1114.0C593.8,1114.4 597.5,1117.6 600.7,1119.7C603.9,1121.8 606.6,1125.2 609.8,1126.6C612.7,1127.9 615.8,1128.5 619.0,1128.4C622.6,1128.3 626.7,1126.2 630.3,1125.4C633.5,1124.7 636.4,1123.8 639.5,1123.8C642.5,1123.8 645.4,1124.9 648.6,1125.4C652.2,1126.0 656.1,1127.4 660.0,1127.2C664.4,1126.9 668.8,1124.0 673.7,1123.3C679.3,1122.5 685.8,1123.2 691.9,1123.3C698.0,1123.4 704.5,1123.5 710.1,1123.7C715.0,1123.9 719.5,1125.1 723.8,1124.4C727.9,1123.7 731.2,1121.5 735.2,1119.9C739.5,1118.1 744.5,1114.2 748.8,1114.2C752.8,1114.2 756.4,1117.2 760.2,1118.7C764.0,1120.2 767.6,1121.8 771.6,1123.3C775.9,1124.9 780.4,1126.1 785.3,1127.8C790.9,1129.7 798.1,1134.2 803.5,1134.2C807.7,1134.2 811.2,1131.9 814.9,1130.1C818.8,1128.3 821.8,1124.8 826.3,1123.3C831.7,1121.5 839.3,1121.8 845.6,1121.0C851.8,1120.2 857.6,1119.6 863.8,1118.7C870.4,1117.7 878.2,1114.6 884.3,1115.3C889.4,1115.9 893.4,1119.1 898.0,1121.0C902.6,1122.9 907.1,1125.4 911.7,1126.7C916.2,1128.0 921.0,1128.4 925.3,1129.0C929.3,1129.5 932.9,1129.7 936.7,1130.1" stroke="#00c800"/>
</g>
<text x="580.1" y="242.6" class="leg">Local structure 3 (1.7x10</text>
<text x="839.3" y="235.8" class="lsup">10</text>
<text x="865.1" y="242.6" class="leg">K s</text>
<text x="899.4" y="235.8" class="lsup">-1</text>
<text x="915.5" y="242.6" class="leg">)</text>
<text x="581.3" y="330.6" class="leg">Local structure 2 (1.7x10</text>
<text x="840.5" y="323.8" class="lsup">10</text>
<text x="866.3" y="330.6" class="leg">K s</text>
<text x="900.6" y="323.8" class="lsup">-1</text>
<text x="916.7" y="330.6" class="leg">)</text>
<text x="581.3" y="413.6" class="leg">Local structure 1 (1.7x10</text>
<text x="840.5" y="406.8" class="lsup">10</text>
<text x="866.3" y="413.6" class="leg">K s</text>
<text x="900.6" y="406.8" class="lsup">-1</text>
<text x="916.7" y="413.6" class="leg">)</text>
<text x="694.7" y="531.4" class="leg">Experiment glass</text>
<text x="581.3" y="1105.4" class="leg">Local structure 3 (1.7x10</text>
<text x="840.5" y="1098.6" class="lsup">14</text>
<text x="866.3" y="1105.4" class="leg">K s</text>
<text x="900.6" y="1098.6" class="lsup">-1</text>
<text x="916.7" y="1105.4" class="leg">)</text>
<text x="581.3" y="1210.7" class="leg">Local structure 2 (1.7x10</text>
<text x="840.5" y="1203.9" class="lsup">14</text>
<text x="866.3" y="1210.7" class="leg">K s</text>
<text x="900.6" y="1203.9" class="lsup">-1</text>
<text x="916.7" y="1210.7" class="leg">)</text>
<text x="581.3" y="1315.7" class="leg">Local structure 1 (1.7x10</text>
<text x="840.5" y="1308.9" class="lsup">14</text>
<text x="866.3" y="1315.7" class="leg">K s</text>
<text x="900.6" y="1308.9" class="lsup">-1</text>
<text x="916.7" y="1315.7" class="leg">)</text>
<text x="691.9" y="1414.7" class="leg">Experiment glass</text>
</svg></body></html>
